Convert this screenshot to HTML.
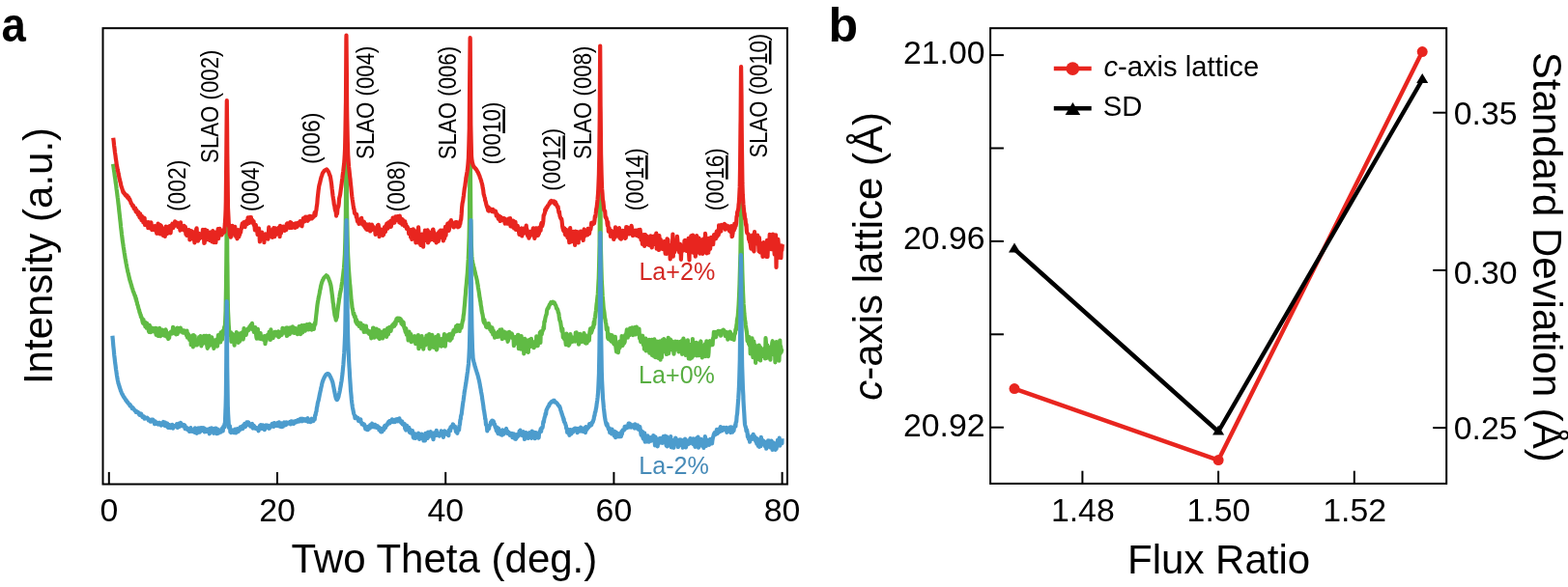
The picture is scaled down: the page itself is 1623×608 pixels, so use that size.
<!DOCTYPE html>
<html lang="en">
<head>
<meta charset="utf-8">
<title>XRD and lattice figure</title>
<style>
html,body{margin:0;padding:0;background:#fff;}
body{width:1623px;height:608px;overflow:hidden;}
svg text{font-family:"Liberation Sans", Arial, Helvetica, sans-serif;}
</style>
</head>
<body>
<svg width="1623" height="608" viewBox="0 0 1623 608" style="display:block">
<rect x="0" y="0" width="1623" height="608" fill="#ffffff"/>
<g fill="none" stroke-linejoin="round" stroke-linecap="butt" stroke-width="4.2">
<path d="M117.0,169.9 L117.5,172.9 L117.9,176.0 L118.4,179.2 L118.8,182.4 L119.3,185.6 L119.7,188.9 L120.2,192.3 L120.6,195.7 L121.1,199.2 L121.5,202.7 L121.7,204.3 L122.0,206.3 L122.4,210.1 L122.9,214.1 L123.3,218.2 L123.8,222.4 L124.2,226.6 L124.7,230.8 L125.1,234.9 L125.6,238.9 L126.0,242.7 L126.5,246.5 L126.9,249.9 L127.1,251.2 L127.4,253.0 L127.8,256.1 L128.3,259.0 L128.7,261.8 L129.2,264.7 L129.6,267.4 L130.1,269.9 L130.5,272.3 L131.0,274.8 L131.4,277.1 L131.8,278.9 L131.9,279.3 L132.3,281.5 L132.8,283.3 L133.2,285.1 L133.7,287.2 L134.1,288.9 L134.6,290.9 L135.0,292.0 L135.5,293.8 L135.5,293.9 L135.9,295.0 L136.4,296.9 L136.8,298.4 L137.3,299.4 L137.7,301.3 L138.2,302.4 L138.6,303.6 L139.1,304.8 L139.5,306.3 L140.0,306.6 L140.4,308.9 L140.7,309.9 L140.9,309.3 L141.3,311.9 L141.8,313.1 L142.2,315.5 L142.7,316.3 L143.1,318.3 L143.6,320.2 L144.0,320.8 L144.5,323.7 L144.9,324.1 L145.4,326.2 L145.8,326.3 L145.9,328.3 L146.3,328.8 L146.7,329.0 L147.2,331.2 L147.6,333.3 L148.1,334.8 L148.5,331.0 L149.0,335.6 L149.4,335.6 L149.9,335.4 L150.3,334.2 L150.3,338.3 L150.8,334.1 L151.2,337.7 L151.7,339.7 L152.1,334.8 L152.6,337.6 L153.0,336.4 L153.5,339.6 L153.9,342.8 L154.4,343.9 L154.8,336.8 L155.3,339.6 L155.7,342.4 L156.2,344.1 L156.6,342.2 L157.1,339.6 L157.5,342.4 L158.0,342.0 L158.4,341.6 L158.9,340.2 L159.2,342.8 L159.3,343.3 L159.8,343.1 L160.2,342.4 L160.7,339.9 L161.1,342.3 L161.6,346.7 L162.0,343.0 L162.5,340.2 L162.9,347.4 L163.4,344.9 L163.8,347.9 L164.3,343.7 L164.7,342.6 L165.2,339.9 L165.6,346.3 L166.1,348.2 L166.5,341.6 L167.0,342.0 L167.4,345.4 L167.9,341.5 L168.1,343.3 L168.3,343.2 L168.8,345.0 L169.2,347.2 L169.7,344.8 L170.1,347.6 L170.6,344.5 L171.0,346.7 L171.5,341.3 L171.9,342.5 L172.4,348.6 L172.8,344.6 L173.3,348.6 L173.7,349.0 L174.2,351.0 L174.6,349.1 L175.1,349.9 L175.5,346.6 L175.5,345.0 L176.0,344.9 L176.4,346.0 L176.9,343.6 L177.3,344.7 L177.8,345.0 L178.2,345.6 L178.7,343.4 L179.1,338.8 L179.6,343.1 L180.0,343.7 L180.5,345.1 L180.9,343.2 L181.4,340.5 L181.8,340.6 L182.3,346.4 L182.7,343.8 L183.2,345.8 L183.6,345.9 L183.7,339.7 L184.1,342.7 L184.5,343.3 L185.0,343.3 L185.4,343.6 L185.9,343.0 L186.3,343.0 L186.8,339.6 L187.2,342.5 L187.7,341.2 L188.1,343.1 L188.6,341.9 L189.0,344.5 L189.5,344.6 L189.9,343.7 L190.3,344.3 L190.4,343.4 L190.8,342.5 L191.3,343.6 L191.7,343.0 L192.2,345.6 L192.6,345.1 L193.1,347.5 L193.5,342.6 L194.0,349.6 L194.4,345.3 L194.9,346.1 L195.3,348.7 L195.8,348.3 L196.2,351.9 L196.7,349.4 L197.1,348.2 L197.6,349.4 L197.7,357.2 L198.0,352.7 L198.5,348.5 L198.9,352.8 L199.4,347.4 L199.8,359.3 L200.3,347.2 L200.7,355.0 L201.2,355.0 L201.6,348.0 L202.1,355.1 L202.5,357.5 L203.0,355.5 L203.4,354.5 L203.9,357.5 L204.3,354.5 L204.8,354.5 L205.2,352.8 L205.7,355.2 L206.1,349.1 L206.6,355.7 L207.0,350.3 L207.5,348.1 L207.9,353.2 L208.4,358.3 L208.8,355.9 L209.3,351.3 L209.6,356.2 L209.7,351.8 L210.2,353.2 L210.6,354.8 L211.1,347.8 L211.5,355.1 L212.0,350.5 L212.4,351.9 L212.9,348.9 L213.3,347.8 L213.8,350.7 L214.2,357.4 L214.7,360.8 L215.1,354.1 L215.6,359.3 L216.0,354.4 L216.5,347.9 L216.9,355.9 L217.4,357.8 L217.8,353.6 L218.3,356.6 L218.4,357.2 L218.7,351.4 L219.2,349.3 L219.6,353.5 L220.1,352.9 L220.5,351.9 L221.0,357.7 L221.4,360.9 L221.9,352.8 L222.3,357.6 L222.8,358.0 L223.2,356.5 L223.7,357.0 L224.1,351.7 L224.6,355.7 L225.0,358.6 L225.5,353.3 L225.9,347.2 L226.4,350.8 L226.8,353.3 L227.3,350.6 L227.7,348.3 L228.2,354.5 L228.6,344.4 L228.8,350.2 L229.1,349.2 L229.5,345.1 L230.0,351.7 L230.4,348.1 L230.9,342.4 L231.3,346.1 L231.8,342.7 L232.2,338.6 L232.2,341.4 L232.7,340.0 L233.1,333.6 L233.6,321.8 L233.6,320.2 L234.0,297.0 L234.3,270.0 L234.5,249.1 L234.8,205.0 L234.9,210.3 L235.3,270.1 L235.4,274.6 L235.8,310.8 L236.0,321.6 L236.3,327.5 L236.7,336.1 L237.2,343.4 L237.4,342.7 L237.6,345.4 L238.1,343.9 L238.5,348.0 L239.0,344.3 L239.4,353.9 L239.9,349.1 L240.3,345.9 L240.8,350.7 L241.2,350.5 L241.7,352.4 L242.1,348.5 L242.1,353.3 L242.6,357.6 L243.0,346.7 L243.5,351.4 L243.9,349.7 L244.4,351.1 L244.8,344.0 L245.3,346.2 L245.7,351.3 L246.2,349.6 L246.6,354.9 L247.1,347.0 L247.5,349.2 L248.0,353.7 L248.4,345.3 L248.9,345.3 L249.3,347.2 L249.8,346.8 L250.2,349.2 L250.7,346.6 L251.0,344.0 L251.1,347.5 L251.6,351.5 L252.0,349.6 L252.5,340.2 L252.9,344.5 L253.4,342.1 L253.8,344.9 L254.3,342.5 L254.7,346.9 L255.2,344.2 L255.6,343.7 L256.1,341.2 L256.5,340.5 L257.0,340.5 L257.4,341.9 L257.9,340.3 L258.3,338.3 L258.8,340.8 L259.2,338.2 L259.2,337.9 L259.7,336.6 L260.1,336.8 L260.6,336.9 L261.0,334.8 L261.5,341.2 L261.9,340.7 L262.4,340.1 L262.8,343.8 L263.3,342.9 L263.7,343.7 L264.2,339.2 L264.6,344.2 L265.1,346.6 L265.5,349.6 L265.8,350.7 L266.0,349.3 L266.4,342.9 L266.9,340.9 L267.3,348.1 L267.8,347.1 L268.2,350.6 L268.7,348.0 L269.1,349.7 L269.6,345.0 L270.0,351.1 L270.5,348.1 L270.9,350.4 L271.4,350.9 L271.7,349.3 L271.8,350.6 L272.3,349.5 L272.7,351.8 L273.2,350.9 L273.6,348.2 L274.1,348.2 L274.5,356.1 L275.0,350.0 L275.4,353.1 L275.9,350.6 L276.3,347.4 L276.8,346.9 L277.2,348.7 L277.7,349.1 L278.1,349.8 L278.6,343.9 L279.0,345.7 L279.5,347.1 L279.9,352.0 L280.4,341.4 L280.8,348.0 L281.3,345.1 L281.7,347.0 L282.1,344.7 L282.2,347.1 L282.6,350.2 L283.1,346.8 L283.5,346.9 L284.0,347.4 L284.4,343.9 L284.9,347.3 L285.3,345.5 L285.8,344.0 L286.2,346.1 L286.7,345.3 L287.1,347.9 L287.6,345.4 L288.0,343.4 L288.5,349.1 L288.9,347.8 L289.4,348.3 L289.8,346.3 L290.3,344.3 L290.7,343.8 L291.2,343.7 L291.6,346.9 L292.1,344.5 L292.5,339.8 L293.0,343.9 L293.4,340.6 L293.9,344.6 L294.3,340.9 L294.8,340.6 L295.2,344.2 L295.7,343.3 L296.1,339.6 L296.6,345.7 L296.9,348.0 L297.0,339.3 L297.5,347.3 L297.9,341.5 L298.4,341.9 L298.8,342.5 L299.3,339.5 L299.7,346.2 L300.2,344.2 L300.6,341.3 L301.1,342.6 L301.5,339.2 L302.0,342.0 L302.4,344.5 L302.9,338.4 L303.3,341.4 L303.8,342.1 L304.2,344.2 L304.7,344.8 L305.1,340.6 L305.6,339.9 L306.0,342.3 L306.5,341.0 L306.9,341.0 L307.4,344.4 L307.8,346.1 L308.3,342.9 L308.7,342.0 L309.2,343.4 L309.6,338.0 L310.1,342.0 L310.5,339.6 L311.0,346.1 L311.4,343.3 L311.7,341.9 L311.9,341.1 L312.3,337.0 L312.8,342.6 L313.2,344.4 L313.7,339.5 L314.1,342.2 L314.6,341.9 L315.0,336.9 L315.5,341.9 L315.9,342.6 L316.4,339.9 L316.8,339.4 L317.3,341.1 L317.7,336.1 L318.2,339.6 L318.6,341.2 L319.1,336.9 L319.5,341.5 L320.0,338.6 L320.4,335.6 L320.9,339.2 L321.3,337.5 L321.8,339.9 L322.2,336.8 L322.7,341.6 L323.1,337.5 L323.6,339.3 L324.0,337.5 L324.5,338.2 L324.9,340.8 L325.0,339.2 L325.4,337.6 L325.8,334.6 L326.3,336.0 L326.7,332.1 L327.2,327.4 L327.6,324.1 L328.1,319.2 L328.5,315.7 L329.0,312.5 L329.4,310.4 L329.5,309.8 L329.9,307.5 L330.3,305.8 L330.8,303.4 L331.2,300.8 L331.7,298.9 L332.1,296.4 L332.6,294.5 L333.0,293.0 L333.5,291.5 L333.9,290.6 L333.9,290.2 L334.4,289.9 L334.8,288.6 L335.3,288.0 L335.7,287.1 L336.2,286.9 L336.6,286.5 L337.1,286.0 L337.5,285.8 L337.8,285.3 L338.0,285.5 L338.4,285.8 L338.9,286.1 L339.3,287.1 L339.8,287.8 L340.2,288.8 L340.7,290.1 L341.1,291.0 L341.6,292.5 L342.0,293.9 L342.2,294.9 L342.5,295.9 L342.9,298.6 L343.4,302.2 L343.8,305.2 L344.3,309.3 L344.7,313.6 L345.2,315.6 L345.2,316.6 L345.6,320.3 L346.1,323.5 L346.5,326.6 L347.0,328.0 L347.4,329.3 L347.8,331.6 L347.9,329.7 L348.3,329.7 L348.8,328.5 L349.2,323.8 L349.7,320.1 L350.1,316.8 L350.6,313.4 L351.0,310.2 L351.1,309.5 L351.5,307.6 L351.9,304.3 L352.4,302.3 L352.8,300.3 L353.3,297.6 L353.7,294.9 L354.2,292.1 L354.6,288.9 L354.6,289.0 L355.1,285.4 L355.5,281.8 L356.0,277.5 L356.4,271.6 L356.8,265.1 L356.9,264.0 L357.3,250.7 L357.8,229.1 L357.9,220.0 L358.2,180.2 L358.5,150.0 L358.7,159.2 L359.1,220.0 L359.1,220.0 L359.6,243.9 L360.0,260.0 L360.2,264.9 L360.5,270.4 L360.9,278.1 L361.4,284.8 L361.8,289.9 L362.2,295.0 L362.3,295.0 L362.7,299.8 L363.2,305.6 L363.6,311.2 L364.1,313.9 L364.5,318.4 L365.0,320.5 L365.2,321.1 L365.4,322.8 L365.9,325.7 L366.3,324.4 L366.8,327.7 L367.2,328.6 L367.7,327.6 L368.1,332.6 L368.6,334.0 L369.0,331.0 L369.5,335.4 L369.9,333.4 L370.3,333.6 L370.4,336.1 L370.8,334.6 L371.3,335.5 L371.7,338.0 L372.2,338.1 L372.6,337.9 L373.1,334.6 L373.5,334.7 L374.0,340.4 L374.4,336.5 L374.9,339.3 L375.3,337.0 L375.8,338.7 L376.2,337.1 L376.7,343.9 L377.1,338.1 L377.6,340.1 L378.0,339.9 L378.5,343.7 L378.9,337.7 L379.2,341.8 L379.4,341.8 L379.8,343.6 L380.3,343.4 L380.7,342.2 L381.2,344.8 L381.6,343.5 L382.1,345.8 L382.5,345.2 L383.0,343.3 L383.4,344.7 L383.9,346.3 L384.3,350.3 L384.8,343.7 L385.2,345.1 L385.7,348.2 L386.1,339.7 L386.6,339.7 L386.6,341.1 L387.0,344.1 L387.5,349.7 L387.9,346.0 L388.4,348.3 L388.8,344.9 L389.3,340.8 L389.7,340.7 L390.2,348.7 L390.6,346.9 L391.1,343.0 L391.5,349.7 L392.0,341.9 L392.4,350.0 L392.9,350.9 L393.3,344.1 L393.8,343.5 L394.2,349.5 L394.7,344.0 L395.1,349.7 L395.6,343.9 L396.0,350.4 L396.5,348.3 L396.9,347.1 L397.0,345.8 L397.4,348.3 L397.8,342.1 L398.3,346.3 L398.7,345.8 L399.2,348.3 L399.6,341.9 L400.1,348.9 L400.5,342.6 L401.0,340.1 L401.4,346.2 L401.9,346.3 L402.3,341.7 L402.8,339.2 L403.2,340.4 L403.7,338.9 L404.1,339.4 L404.6,342.8 L405.0,339.6 L405.5,338.4 L405.9,338.2 L405.9,337.2 L406.4,338.8 L406.8,338.4 L407.3,335.4 L407.7,335.4 L408.2,337.6 L408.6,334.8 L409.1,333.3 L409.5,335.9 L410.0,332.6 L410.4,330.3 L410.9,332.5 L411.3,329.7 L411.8,330.1 L412.2,331.1 L412.7,330.6 L413.1,329.7 L413.3,330.0 L413.6,329.9 L414.0,332.5 L414.5,330.2 L414.9,330.9 L415.4,335.0 L415.8,332.1 L416.3,335.9 L416.7,336.4 L417.2,334.9 L417.6,333.7 L418.1,338.1 L418.5,339.6 L419.0,341.1 L419.2,339.7 L419.4,342.8 L419.9,344.2 L420.3,340.3 L420.8,346.7 L421.2,345.0 L421.7,344.0 L422.1,345.5 L422.6,352.5 L423.0,351.6 L423.5,343.6 L423.9,349.7 L424.4,349.8 L424.8,350.2 L425.1,349.6 L425.3,346.1 L425.7,354.2 L426.2,348.0 L426.6,350.0 L427.1,348.8 L427.5,348.9 L428.0,353.3 L428.4,352.3 L428.9,348.6 L429.3,348.1 L429.8,350.3 L430.2,356.1 L430.7,353.5 L431.1,355.2 L431.6,352.7 L432.0,353.7 L432.5,355.6 L432.9,347.2 L433.4,361.1 L433.8,350.3 L434.3,351.8 L434.7,359.0 L435.2,353.6 L435.6,353.7 L436.1,351.4 L436.5,348.0 L437.0,355.4 L437.4,359.5 L437.9,352.1 L438.3,361.6 L438.4,351.2 L438.8,352.6 L439.2,357.2 L439.7,355.5 L440.1,357.8 L440.6,352.3 L441.0,351.3 L441.5,347.5 L441.9,350.1 L442.4,350.5 L442.8,349.6 L443.3,356.7 L443.7,351.6 L444.2,346.0 L444.6,361.3 L445.1,349.8 L445.5,347.9 L446.0,357.6 L446.4,357.4 L446.9,348.1 L447.3,347.0 L447.8,349.6 L448.2,359.7 L448.7,353.4 L449.1,351.4 L449.6,355.1 L450.0,360.1 L450.5,349.7 L450.9,353.2 L451.4,348.8 L451.8,362.3 L452.3,361.5 L452.7,357.9 L453.2,353.7 L453.2,356.6 L453.6,347.1 L454.1,356.5 L454.5,350.5 L455.0,351.0 L455.4,353.6 L455.9,354.5 L456.3,358.3 L456.8,358.6 L457.2,356.9 L457.7,350.8 L458.1,357.4 L458.6,353.3 L459.0,357.9 L459.5,350.1 L459.9,346.1 L460.4,350.9 L460.8,358.7 L461.3,352.4 L461.7,349.7 L462.2,352.5 L462.6,351.3 L463.1,350.8 L463.5,347.2 L464.0,349.8 L464.4,350.0 L464.9,347.4 L465.1,346.1 L465.3,350.4 L465.8,352.7 L466.2,350.9 L466.7,349.5 L467.1,348.1 L467.6,350.6 L468.0,345.1 L468.5,346.0 L468.9,347.0 L469.4,342.2 L469.8,341.9 L470.3,342.7 L470.7,343.8 L471.0,341.0 L471.2,341.0 L471.6,340.6 L472.1,338.0 L472.5,343.1 L473.0,340.0 L473.4,336.9 L473.9,340.7 L474.3,337.1 L474.8,338.4 L475.2,340.6 L475.5,338.7 L475.7,343.0 L476.1,337.2 L476.6,340.2 L477.0,339.6 L477.5,339.7 L477.9,337.4 L478.4,334.6 L478.8,332.8 L479.3,330.4 L479.3,331.7 L479.7,327.0 L480.2,324.4 L480.6,319.2 L481.1,314.3 L481.5,308.5 L482.0,303.8 L482.2,299.9 L482.4,298.0 L482.9,293.2 L483.3,288.4 L483.8,283.1 L484.2,276.8 L484.6,270.1 L484.7,268.9 L485.1,259.4 L485.6,245.4 L485.9,230.0 L486.0,221.8 L486.5,158.1 L486.6,150.0 L486.9,177.6 L487.3,230.0 L487.4,232.6 L487.8,252.3 L488.3,264.0 L488.4,265.9 L488.7,268.6 L489.2,271.5 L489.6,273.8 L490.1,275.6 L490.5,276.8 L491.0,279.0 L491.0,279.2 L491.4,280.9 L491.9,282.7 L492.3,284.8 L492.8,286.3 L493.2,288.1 L493.7,290.3 L494.0,291.7 L494.1,292.7 L494.6,295.1 L495.0,298.1 L495.5,301.0 L495.9,303.4 L496.4,307.5 L496.8,309.3 L497.0,311.7 L497.3,311.8 L497.7,315.9 L498.2,318.1 L498.6,321.8 L499.1,324.2 L499.5,325.5 L500.0,328.7 L500.4,332.2 L500.9,334.0 L501.0,331.0 L501.3,331.0 L501.8,333.7 L502.2,335.8 L502.7,335.4 L502.8,335.1 L503.1,338.4 L503.6,339.0 L504.0,338.8 L504.5,335.7 L504.9,338.1 L505.4,337.5 L505.8,335.1 L506.3,339.7 L506.6,338.2 L506.7,337.3 L507.2,341.2 L507.6,340.9 L508.1,341.9 L508.5,343.3 L509.0,342.8 L509.4,339.3 L509.9,342.0 L510.3,346.5 L510.8,342.5 L511.2,344.9 L511.7,346.6 L512.1,349.6 L512.5,349.0 L512.6,348.3 L513.0,345.3 L513.5,348.4 L513.9,346.7 L514.4,344.8 L514.8,349.0 L515.3,346.6 L515.7,343.5 L516.2,348.7 L516.6,345.1 L517.1,347.3 L517.5,341.7 L518.0,346.2 L518.4,343.7 L518.9,344.0 L519.3,341.3 L519.8,351.1 L519.9,346.1 L520.2,347.1 L520.7,349.2 L521.1,345.9 L521.6,348.0 L522.0,343.7 L522.5,348.7 L522.9,347.4 L523.4,350.5 L523.8,350.0 L524.3,345.6 L524.7,344.8 L525.2,348.0 L525.6,353.8 L526.1,352.0 L526.5,351.1 L527.0,343.8 L527.3,344.0 L527.4,347.4 L527.9,347.7 L528.3,347.0 L528.8,349.1 L529.2,347.8 L529.7,345.5 L530.1,346.2 L530.6,350.1 L531.0,349.6 L531.5,350.3 L531.9,358.1 L532.4,350.4 L532.8,353.0 L533.3,349.2 L533.7,351.4 L534.2,355.7 L534.6,355.3 L534.7,352.9 L535.1,354.6 L535.5,354.0 L536.0,346.9 L536.4,346.9 L536.9,361.1 L537.3,357.4 L537.8,354.1 L538.2,348.0 L538.7,350.3 L539.1,361.7 L539.6,348.0 L540.0,354.2 L540.5,359.7 L540.9,356.9 L541.4,360.4 L541.8,356.8 L542.3,366.3 L542.7,352.9 L543.2,350.8 L543.6,358.6 L544.1,364.2 L544.5,357.2 L545.0,363.2 L545.0,355.6 L545.4,352.7 L545.9,363.3 L546.3,364.4 L546.8,364.8 L547.2,355.5 L547.7,352.2 L548.1,352.0 L548.6,355.6 L549.0,358.7 L549.5,358.8 L549.9,350.8 L550.4,357.6 L550.8,356.5 L551.3,357.4 L551.7,356.4 L552.2,356.1 L552.6,360.2 L553.1,358.1 L553.5,358.3 L554.0,353.7 L554.4,358.4 L554.9,355.7 L555.3,348.3 L555.8,358.2 L556.2,354.4 L556.7,358.1 L556.9,353.7 L557.1,353.3 L557.6,354.5 L558.0,352.5 L558.5,350.3 L558.9,344.4 L559.4,355.0 L559.8,343.4 L560.3,345.0 L560.7,346.3 L561.2,343.7 L561.6,342.7 L562.1,341.6 L562.5,340.8 L562.5,338.8 L563.0,340.1 L563.4,333.1 L563.9,333.1 L564.3,330.1 L564.8,327.9 L565.2,326.5 L565.7,325.5 L566.1,321.6 L566.6,319.9 L567.0,319.6 L567.5,318.4 L567.6,319.2 L567.9,318.0 L568.4,316.7 L568.8,315.6 L569.3,315.3 L569.7,314.4 L570.2,313.3 L570.6,313.7 L571.1,313.2 L571.5,313.0 L572.0,312.7 L572.0,313.9 L572.4,313.4 L572.9,313.8 L573.3,313.2 L573.8,313.4 L574.2,314.6 L574.7,315.7 L575.1,316.1 L575.6,317.3 L576.0,319.3 L576.5,319.9 L576.9,319.9 L577.1,320.9 L577.4,321.4 L577.8,323.7 L578.3,324.3 L578.7,327.6 L579.2,330.9 L579.6,332.4 L580.1,333.2 L580.5,336.1 L581.0,339.4 L581.4,342.0 L581.5,342.9 L581.9,342.0 L582.3,340.5 L582.8,349.5 L583.2,348.5 L583.7,350.2 L584.1,351.1 L584.6,348.4 L585.0,351.4 L585.5,354.4 L585.8,357.0 L585.9,353.4 L586.4,345.7 L586.8,351.8 L587.3,354.5 L587.7,357.2 L588.2,353.7 L588.6,357.9 L589.1,356.0 L589.5,356.5 L590.0,354.8 L590.4,346.2 L590.9,354.2 L591.3,353.4 L591.8,349.0 L592.2,353.8 L592.7,353.8 L593.1,349.7 L593.6,351.1 L594.0,350.2 L594.5,352.3 L594.9,350.5 L595.4,353.6 L595.8,344.5 L596.3,350.1 L596.7,344.3 L597.0,349.6 L597.2,352.8 L597.6,351.3 L598.1,350.6 L598.5,350.8 L599.0,356.6 L599.4,347.2 L599.9,354.9 L600.3,345.9 L600.8,350.2 L601.2,352.1 L601.7,348.6 L602.1,352.1 L602.6,353.9 L603.0,347.4 L603.5,351.2 L603.9,350.3 L604.4,345.0 L604.8,350.7 L605.3,348.9 L605.7,355.0 L606.2,347.4 L606.6,355.7 L607.1,348.7 L607.5,355.5 L608.0,350.8 L608.4,350.7 L608.9,350.6 L609.1,350.4 L609.3,351.8 L609.8,352.7 L610.2,346.0 L610.7,342.4 L611.1,340.4 L611.6,343.1 L612.0,344.7 L612.5,343.2 L612.9,341.8 L613.4,339.9 L613.8,338.1 L614.3,337.9 L614.3,339.2 L614.7,333.5 L615.2,336.1 L615.6,329.8 L616.1,328.3 L616.5,324.5 L617.0,321.2 L617.4,316.8 L617.7,314.0 L617.9,313.2 L618.3,308.6 L618.8,304.7 L619.2,297.3 L619.6,289.9 L619.7,288.8 L620.1,274.7 L620.6,252.8 L620.6,250.0 L621.0,202.9 L621.2,190.0 L621.5,209.0 L621.8,250.0 L621.9,255.7 L622.4,276.6 L622.8,290.1 L622.8,290.1 L623.3,298.7 L623.7,306.7 L624.2,312.1 L624.6,317.6 L625.0,321.6 L625.1,321.0 L625.5,323.8 L626.0,329.3 L626.4,330.3 L626.9,333.6 L627.3,335.4 L627.8,341.4 L628.2,341.3 L628.7,339.3 L629.0,346.9 L629.1,349.8 L629.6,351.0 L630.0,345.8 L630.5,348.1 L630.9,350.8 L631.4,352.1 L631.8,350.5 L632.3,347.1 L632.7,353.6 L633.2,353.7 L633.6,347.4 L634.1,351.1 L634.5,354.0 L635.0,352.7 L635.0,355.2 L635.4,356.4 L635.9,355.7 L636.3,352.9 L636.8,348.9 L637.2,357.6 L637.7,361.8 L638.1,364.3 L638.6,357.1 L639.0,357.9 L639.5,364.4 L639.9,365.1 L640.4,360.3 L640.8,361.1 L641.3,353.5 L641.7,359.8 L642.2,353.3 L642.6,356.3 L643.1,356.3 L643.5,354.5 L643.6,348.1 L644.0,353.3 L644.4,357.9 L644.9,356.7 L645.3,353.5 L645.8,355.7 L646.2,355.2 L646.7,354.0 L647.1,347.1 L647.6,348.7 L648.0,346.3 L648.5,344.3 L648.9,341.3 L649.0,345.5 L649.4,342.7 L649.8,349.6 L650.3,344.0 L650.7,342.8 L651.2,341.8 L651.6,347.1 L652.1,340.0 L652.3,341.9 L652.5,340.4 L653.0,342.2 L653.4,342.4 L653.9,344.9 L654.3,339.4 L654.8,343.0 L655.2,347.1 L655.7,342.5 L656.1,343.7 L656.6,341.6 L657.0,339.0 L657.5,343.0 L657.9,346.5 L658.4,342.0 L658.8,338.5 L659.2,343.9 L659.3,342.9 L659.7,345.0 L660.2,345.5 L660.6,343.5 L661.1,346.1 L661.5,340.5 L662.0,350.4 L662.4,348.6 L662.9,352.3 L663.3,354.1 L663.8,350.8 L664.2,352.4 L664.7,350.2 L665.1,347.7 L665.6,355.4 L666.0,357.4 L666.5,352.6 L666.9,361.7 L667.4,358.6 L667.8,360.6 L667.8,354.9 L668.3,350.7 L668.7,363.4 L669.2,363.2 L669.6,360.0 L670.1,359.5 L670.5,360.3 L671.0,361.1 L671.4,358.7 L671.9,351.9 L672.3,365.7 L672.8,353.4 L673.2,359.5 L673.7,359.9 L674.1,362.8 L674.6,351.8 L675.0,368.0 L675.5,365.6 L675.9,365.4 L676.4,368.7 L676.8,357.1 L677.3,351.4 L677.7,364.3 L678.2,369.9 L678.2,370.1 L678.6,360.3 L679.1,362.4 L679.5,365.7 L680.0,353.6 L680.4,360.0 L680.9,359.8 L681.3,371.0 L681.8,359.0 L682.2,370.7 L682.7,362.1 L683.1,353.3 L683.6,372.7 L684.0,356.3 L684.5,364.2 L684.9,370.1 L685.4,357.5 L685.8,352.1 L686.3,364.3 L686.7,358.6 L687.2,351.2 L687.6,351.7 L688.1,355.3 L688.5,363.2 L689.0,356.8 L689.4,361.9 L689.9,367.0 L690.3,365.2 L690.8,366.5 L691.2,365.9 L691.7,349.8 L692.1,366.1 L692.6,361.3 L693.0,358.8 L693.5,354.0 L693.9,351.5 L694.4,353.9 L694.8,359.7 L695.3,353.4 L695.5,355.9 L695.7,356.0 L696.2,362.7 L696.6,357.7 L697.1,358.7 L697.5,366.7 L698.0,358.1 L698.4,363.0 L698.9,353.7 L699.3,361.0 L699.8,360.3 L700.2,361.0 L700.7,357.4 L701.1,353.9 L701.6,357.6 L702.0,356.6 L702.5,364.4 L702.9,364.2 L703.4,354.0 L703.8,364.2 L704.3,358.9 L704.7,363.8 L705.2,358.6 L705.6,353.1 L706.1,366.8 L706.5,363.9 L707.0,354.5 L707.4,350.5 L707.9,357.5 L708.3,352.8 L708.8,357.3 L709.2,362.6 L709.7,367.8 L710.1,358.2 L710.6,367.6 L711.0,366.3 L711.5,358.3 L711.9,352.3 L712.4,366.3 L712.7,364.6 L712.8,371.4 L713.3,369.0 L713.7,365.6 L714.2,371.7 L714.6,357.0 L715.1,363.0 L715.5,359.8 L716.0,370.7 L716.4,364.7 L716.9,351.1 L717.3,369.0 L717.8,356.5 L718.2,365.0 L718.7,358.2 L719.1,362.1 L719.6,364.7 L720.0,361.4 L720.5,354.9 L720.9,368.3 L721.4,362.5 L721.8,359.4 L722.3,362.4 L722.7,355.5 L723.2,368.1 L723.6,359.6 L724.1,361.0 L724.5,362.4 L725.0,355.2 L725.4,353.5 L725.9,362.5 L726.3,364.0 L726.8,370.4 L727.2,366.8 L727.7,358.3 L728.1,367.8 L728.6,367.7 L729.0,368.4 L729.5,365.3 L729.9,356.4 L730.0,369.1 L730.4,358.0 L730.8,364.4 L731.3,353.3 L731.7,364.7 L732.2,357.4 L732.6,366.6 L733.1,369.1 L733.5,365.3 L734.0,353.5 L734.4,354.1 L734.9,353.3 L735.3,357.6 L735.8,355.4 L736.2,353.8 L736.7,353.6 L736.9,353.8 L737.1,353.9 L737.6,357.2 L738.0,350.3 L738.5,350.5 L738.9,343.9 L739.4,345.2 L739.8,346.3 L740.3,344.0 L740.7,347.6 L741.2,349.0 L741.6,344.8 L742.1,344.3 L742.5,343.6 L743.0,345.0 L743.4,342.8 L743.8,344.9 L743.9,344.8 L744.3,344.7 L744.8,345.9 L745.2,343.1 L745.7,343.4 L746.1,347.7 L746.6,343.0 L747.0,345.1 L747.5,343.6 L747.9,342.1 L748.4,342.5 L748.8,341.7 L749.3,344.0 L749.7,342.8 L750.2,343.3 L750.6,347.8 L751.1,344.4 L751.5,348.2 L752.0,346.1 L752.4,347.8 L752.5,344.0 L752.9,346.6 L753.3,351.6 L753.8,349.1 L754.2,349.6 L754.7,348.0 L755.1,349.7 L755.6,343.5 L756.0,344.7 L756.5,348.9 L756.9,350.9 L757.4,347.4 L757.8,348.7 L758.3,348.7 L758.7,349.6 L759.2,347.2 L759.4,347.2 L759.6,352.0 L760.1,345.8 L760.5,346.3 L761.0,345.0 L761.4,341.1 L761.9,341.6 L762.3,337.1 L762.8,334.4 L762.8,332.6 L763.2,330.0 L763.7,327.6 L764.1,322.4 L764.6,315.5 L764.6,315.3 L765.0,307.0 L765.5,294.6 L765.9,280.2 L765.9,280.0 L766.4,262.7 L766.6,250.0 L766.8,231.8 L767.1,210.0 L767.3,216.9 L767.6,250.0 L767.7,255.4 L768.2,274.7 L768.3,280.0 L768.6,289.7 L769.1,303.3 L769.5,312.1 L769.6,314.9 L770.0,318.7 L770.4,324.8 L770.9,330.1 L771.3,332.5 L771.5,333.7 L771.8,337.0 L772.2,339.4 L772.7,342.4 L773.1,345.2 L773.6,353.1 L774.0,352.6 L774.5,353.9 L774.9,348.9 L774.9,356.1 L775.4,349.2 L775.8,357.7 L776.3,351.3 L776.7,366.5 L777.2,350.4 L777.6,365.7 L778.1,364.1 L778.5,350.4 L779.0,359.9 L779.4,370.2 L779.9,369.0 L780.3,353.6 L780.8,360.9 L781.2,357.0 L781.7,359.2 L781.8,361.2 L782.1,375.8 L782.6,364.9 L783.0,363.0 L783.5,362.3 L783.9,368.0 L784.4,367.5 L784.8,358.2 L785.3,372.1 L785.7,357.6 L786.2,361.8 L786.6,366.7 L787.1,373.4 L787.5,360.0 L788.0,363.0 L788.4,369.2 L788.9,365.6 L789.3,367.1 L789.8,366.4 L790.2,361.9 L790.7,364.2 L791.1,365.4 L791.6,360.6 L792.0,371.4 L792.5,350.2 L792.9,354.7 L793.4,370.8 L793.8,364.5 L794.3,357.5 L794.7,364.5 L795.2,370.4 L795.6,360.6 L795.7,368.9 L796.1,364.5 L796.5,366.5 L797.0,365.8 L797.4,372.6 L797.9,359.4 L798.3,361.7 L798.8,367.5 L799.2,355.5 L799.7,353.2 L800.1,365.8 L800.6,361.8 L801.0,360.9 L801.5,362.8 L801.9,355.6 L802.4,375.3 L802.8,356.9 L803.3,361.0 L803.7,354.1 L804.2,360.5 L804.6,372.4 L805.1,362.5 L805.5,365.7 L806.0,359.9 L806.4,373.7 L806.9,363.4 L807.3,352.6 L807.8,366.0 L808.2,358.9 L808.7,364.7 L809.1,362.5 L809.5,363.5" stroke="#60bb44"/>
<path d="M116.4,347.8 L116.9,353.1 L117.3,358.1 L117.8,362.9 L118.2,367.4 L118.7,371.5 L119.0,374.5 L119.1,375.4 L119.6,378.8 L120.0,382.2 L120.5,385.5 L120.9,388.5 L121.4,391.3 L121.8,393.6 L122.3,395.9 L122.5,397.0 L122.7,397.4 L123.2,399.2 L123.6,400.5 L124.1,402.0 L124.5,403.2 L125.0,404.8 L125.4,405.6 L125.9,407.0 L126.3,408.0 L126.8,408.8 L126.8,408.4 L127.2,409.6 L127.7,410.5 L128.1,411.3 L128.6,411.5 L129.0,412.5 L129.5,413.0 L129.9,413.7 L130.4,414.9 L130.8,414.7 L131.3,415.7 L131.7,416.6 L132.2,416.6 L132.6,417.3 L133.1,418.1 L133.5,418.6 L134.0,418.5 L134.4,419.7 L134.5,420.4 L134.9,419.4 L135.3,421.0 L135.8,421.1 L136.2,421.2 L136.7,423.0 L137.1,422.9 L137.6,422.3 L138.0,423.4 L138.5,424.0 L138.9,424.0 L139.4,425.1 L139.8,425.1 L140.3,425.9 L140.7,426.8 L141.2,425.8 L141.6,426.7 L142.1,426.7 L142.5,427.4 L143.0,426.9 L143.2,427.5 L143.4,428.0 L143.9,429.0 L144.3,429.7 L144.8,428.2 L145.2,428.9 L145.7,430.2 L146.1,428.6 L146.6,429.9 L147.0,430.6 L147.5,432.0 L147.9,431.8 L148.4,431.2 L148.8,431.3 L149.3,431.8 L149.7,433.7 L150.2,432.4 L150.6,432.7 L151.1,433.4 L151.5,433.0 L152.0,433.1 L152.4,432.7 L152.9,433.8 L153.3,433.7 L153.8,435.4 L154.2,435.0 L154.7,434.7 L155.1,435.7 L155.3,435.0 L155.6,436.5 L156.0,435.6 L156.5,436.6 L156.9,434.6 L157.4,436.4 L157.8,434.7 L158.3,434.6 L158.7,436.2 L159.2,435.7 L159.6,437.1 L160.1,439.2 L160.5,436.3 L161.0,436.8 L161.4,438.1 L161.9,438.3 L162.3,437.8 L162.8,438.1 L163.2,439.4 L163.7,439.6 L164.1,437.8 L164.6,439.0 L165.0,439.3 L165.5,437.9 L165.9,439.6 L166.4,438.4 L166.8,440.6 L167.3,439.7 L167.7,439.5 L168.2,438.6 L168.6,439.3 L169.1,437.0 L169.1,438.1 L169.5,440.1 L170.0,437.3 L170.4,440.8 L170.9,437.5 L171.3,441.0 L171.8,439.1 L172.2,441.3 L172.7,440.7 L173.1,438.5 L173.6,442.5 L174.0,442.8 L174.5,441.2 L174.9,441.0 L175.4,441.3 L175.8,440.2 L176.3,443.2 L176.7,440.8 L177.2,441.6 L177.6,440.8 L178.1,441.0 L178.5,440.0 L179.0,443.7 L179.0,441.8 L179.4,443.2 L179.9,441.9 L180.3,440.9 L180.8,441.5 L181.2,441.0 L181.7,441.6 L182.1,440.9 L182.6,440.7 L183.0,439.2 L183.5,439.8 L183.9,442.9 L184.4,439.7 L184.8,439.0 L185.3,440.5 L185.7,441.9 L186.2,438.3 L186.4,439.7 L186.6,439.3 L187.1,438.0 L187.5,441.1 L188.0,440.3 L188.4,440.4 L188.9,439.6 L189.3,441.3 L189.8,440.1 L190.2,441.1 L190.7,440.1 L191.1,440.4 L191.6,444.1 L192.0,441.9 L192.5,443.5 L192.9,443.3 L193.4,443.2 L193.8,443.3 L194.3,445.2 L194.7,444.0 L195.2,444.3 L195.6,444.9 L196.1,446.9 L196.5,446.2 L196.7,445.8 L197.0,444.4 L197.4,443.1 L197.9,446.8 L198.3,446.8 L198.8,445.2 L199.2,446.3 L199.7,446.6 L200.1,447.0 L200.6,447.2 L201.0,444.8 L201.5,447.9 L201.9,443.3 L202.4,447.0 L202.8,446.4 L203.3,447.2 L203.7,448.8 L204.2,448.0 L204.6,443.9 L205.1,443.5 L205.5,447.6 L206.0,444.8 L206.4,446.2 L206.9,447.5 L207.3,443.3 L207.8,443.1 L208.2,446.2 L208.7,445.9 L209.1,445.2 L209.6,445.8 L210.0,444.0 L210.0,443.1 L210.5,445.5 L210.9,444.4 L211.4,443.5 L211.8,447.3 L212.3,446.4 L212.7,447.1 L213.2,444.9 L213.6,445.6 L214.1,444.8 L214.5,445.2 L215.0,446.8 L215.4,445.0 L215.9,446.9 L216.3,446.8 L216.8,449.3 L217.2,443.8 L217.7,447.6 L218.1,445.9 L218.6,445.9 L219.0,443.4 L219.5,445.3 L219.9,447.6 L220.4,446.2 L220.8,446.6 L220.9,446.4 L221.3,448.8 L221.7,446.9 L222.2,443.9 L222.6,446.0 L223.1,443.9 L223.5,443.7 L224.0,446.2 L224.4,449.2 L224.9,446.8 L225.3,444.6 L225.8,445.3 L226.2,448.6 L226.7,446.9 L227.1,446.6 L227.6,446.6 L228.0,446.3 L228.5,447.6 L228.9,446.9 L229.4,446.5 L229.5,444.2 L229.8,446.6 L230.3,444.3 L230.7,446.5 L231.2,441.8 L231.6,442.8 L232.1,442.0 L232.4,439.1 L232.5,442.4 L233.0,436.5 L233.4,425.2 L233.6,420.3 L233.9,408.0 L234.2,379.8 L234.3,367.1 L234.7,312.0 L234.8,313.5 L235.2,379.9 L235.2,380.0 L235.7,413.6 L235.8,420.5 L236.1,428.3 L236.6,436.8 L237.0,443.0 L237.0,440.4 L237.5,442.1 L237.9,441.1 L238.4,447.4 L238.8,447.8 L239.3,448.1 L239.7,447.7 L240.0,446.8 L240.2,446.8 L240.6,445.6 L241.1,445.8 L241.5,446.1 L242.0,448.1 L242.4,446.4 L242.9,445.3 L243.3,444.5 L243.8,444.6 L244.2,448.3 L244.7,446.6 L245.1,445.8 L245.6,445.1 L246.0,444.1 L246.5,445.7 L246.8,447.0 L246.9,445.0 L247.4,445.0 L247.8,444.7 L248.3,445.1 L248.7,442.3 L249.2,443.9 L249.6,442.3 L250.1,444.1 L250.5,441.5 L251.0,442.9 L251.4,444.0 L251.9,441.2 L252.0,440.3 L252.3,440.9 L252.8,440.5 L253.2,438.9 L253.7,440.5 L254.1,442.0 L254.6,439.2 L255.0,438.7 L255.5,437.5 L255.9,439.3 L256.4,437.3 L256.8,437.4 L257.2,440.1 L257.3,437.6 L257.7,440.1 L258.2,440.5 L258.6,439.2 L259.1,439.9 L259.5,441.7 L260.0,439.5 L260.4,439.3 L260.9,438.9 L261.3,441.3 L261.8,443.5 L262.2,443.2 L262.7,440.8 L263.1,441.3 L263.6,442.3 L264.0,443.7 L264.5,443.5 L264.9,444.0 L265.4,444.1 L265.8,443.2 L265.8,443.9 L266.3,444.2 L266.7,443.7 L267.2,444.5 L267.6,446.3 L268.1,444.1 L268.5,443.4 L269.0,440.8 L269.4,443.4 L269.9,440.1 L270.3,441.0 L270.8,444.0 L271.2,443.8 L271.7,442.6 L272.1,440.4 L272.6,442.2 L273.0,441.6 L273.5,443.6 L273.9,445.2 L274.4,442.6 L274.8,441.2 L275.3,440.5 L275.7,442.0 L276.2,441.9 L276.6,440.6 L277.1,442.3 L277.5,440.8 L278.0,443.7 L278.4,443.8 L278.9,443.7 L279.3,441.3 L279.8,442.2 L280.2,441.2 L280.7,440.8 L281.1,440.9 L281.4,439.3 L281.6,439.1 L282.0,441.7 L282.5,440.4 L282.9,440.8 L283.4,441.8 L283.8,438.1 L284.3,439.2 L284.7,440.2 L285.2,440.5 L285.6,439.3 L286.1,440.9 L286.5,440.1 L287.0,438.2 L287.4,438.7 L287.9,441.1 L288.3,440.5 L288.8,437.4 L289.2,441.5 L289.7,440.8 L290.1,441.7 L290.6,439.3 L291.0,439.6 L291.5,438.4 L291.9,442.2 L292.4,439.6 L292.8,441.8 L293.3,438.8 L293.7,439.8 L294.2,437.5 L294.6,438.8 L295.1,440.3 L295.5,437.5 L296.0,440.2 L296.4,439.2 L296.9,437.5 L297.3,438.3 L297.8,438.2 L298.2,438.6 L298.7,438.3 L298.7,438.1 L299.1,438.6 L299.6,437.5 L300.0,437.1 L300.5,438.4 L300.9,439.4 L301.4,436.3 L301.8,438.0 L302.3,437.1 L302.7,436.6 L303.2,438.5 L303.6,436.8 L304.1,438.9 L304.5,436.5 L305.0,437.5 L305.4,437.0 L305.9,436.1 L306.3,437.4 L306.8,436.3 L307.2,437.1 L307.7,436.4 L308.1,435.1 L308.6,436.1 L309.0,436.1 L309.5,436.6 L309.9,434.7 L310.4,435.3 L310.8,433.8 L311.3,436.2 L311.7,434.3 L312.2,433.6 L312.6,435.1 L313.1,436.2 L313.5,433.8 L314.0,434.3 L314.4,434.7 L314.9,434.3 L315.3,435.5 L315.8,434.4 L315.9,434.6 L316.2,435.9 L316.7,434.5 L317.1,435.5 L317.6,434.0 L318.0,433.9 L318.5,433.2 L318.9,436.8 L319.4,434.7 L319.8,435.2 L320.3,434.9 L320.7,435.2 L321.2,435.3 L321.6,437.2 L322.1,434.4 L322.5,433.8 L323.0,434.6 L323.4,434.1 L323.9,436.2 L324.3,436.2 L324.6,434.4 L324.8,433.7 L325.2,434.1 L325.7,434.5 L326.1,430.1 L326.6,430.2 L327.0,427.0 L327.5,426.2 L327.9,422.5 L328.4,420.6 L328.8,417.7 L329.3,415.8 L329.7,414.7 L329.7,414.5 L330.2,412.1 L330.6,410.0 L331.1,407.4 L331.5,405.7 L332.0,403.5 L332.4,401.4 L332.9,399.4 L333.3,397.3 L333.8,395.7 L334.2,394.2 L334.7,393.2 L334.9,392.7 L335.1,392.1 L335.6,391.1 L336.0,390.4 L336.5,389.5 L336.9,388.8 L337.4,388.3 L337.8,387.6 L338.3,387.4 L338.7,387.1 L339.2,387.0 L339.2,387.0 L339.6,387.0 L340.1,387.3 L340.5,387.8 L341.0,388.4 L341.4,389.3 L341.9,390.1 L342.3,390.9 L342.8,392.1 L343.2,392.9 L343.6,393.9 L343.7,394.1 L344.1,395.2 L344.6,397.3 L345.0,399.3 L345.5,401.6 L345.9,404.0 L346.4,406.3 L346.8,408.4 L347.3,410.7 L347.7,412.2 L348.2,413.6 L348.6,413.5 L348.7,414.1 L349.1,413.9 L349.5,413.2 L350.0,412.1 L350.4,411.0 L350.9,408.4 L351.3,407.0 L351.8,404.6 L352.2,402.1 L352.7,399.7 L353.1,396.9 L353.1,396.9 L353.6,394.3 L354.0,390.9 L354.5,387.1 L354.9,382.6 L355.4,377.7 L355.8,372.1 L355.8,372.0 L356.3,365.4 L356.7,356.9 L357.2,345.0 L357.3,340.0 L357.6,323.1 L358.0,290.0 L358.1,285.2 L358.5,231.4 L358.6,228.0 L359.0,259.5 L359.2,290.0 L359.4,307.0 L359.9,337.9 L359.9,340.0 L360.3,353.8 L360.8,365.5 L361.2,374.5 L361.5,380.0 L361.7,382.7 L362.1,390.4 L362.6,397.5 L363.0,404.1 L363.5,409.2 L363.9,414.0 L364.3,417.6 L364.4,418.0 L364.8,421.3 L365.3,423.8 L365.7,425.9 L366.2,428.5 L366.6,429.4 L367.1,430.3 L367.5,433.1 L367.6,432.6 L368.0,433.1 L368.4,431.6 L368.9,433.2 L369.3,433.3 L369.8,433.4 L370.2,432.6 L370.7,434.4 L371.1,435.9 L371.6,435.6 L372.0,434.8 L372.5,435.7 L372.9,436.8 L373.3,434.4 L373.4,436.3 L373.8,437.3 L374.3,437.8 L374.7,439.4 L375.2,439.4 L375.6,439.0 L376.1,439.5 L376.5,440.7 L377.0,439.5 L377.4,440.4 L377.9,442.4 L378.3,444.4 L378.8,442.0 L379.2,442.6 L379.7,443.1 L380.1,445.1 L380.6,443.2 L380.7,445.2 L381.0,441.8 L381.5,442.6 L381.9,442.4 L382.4,443.7 L382.8,443.7 L383.3,440.0 L383.7,440.1 L384.2,441.6 L384.6,439.9 L385.1,438.7 L385.5,442.1 L386.0,441.3 L386.4,441.1 L386.7,439.8 L386.9,441.8 L387.3,440.6 L387.8,442.3 L388.2,439.9 L388.7,440.3 L389.1,441.8 L389.6,440.8 L390.0,443.0 L390.5,442.7 L390.9,441.3 L391.4,443.1 L391.8,442.9 L392.3,445.2 L392.7,442.9 L393.2,443.3 L393.6,446.1 L394.1,447.3 L394.5,447.4 L395.0,444.9 L395.4,445.3 L395.5,447.2 L395.9,444.6 L396.3,443.6 L396.8,445.2 L397.2,445.2 L397.7,443.0 L398.1,441.3 L398.6,440.8 L399.0,443.1 L399.5,440.6 L399.9,440.9 L400.4,440.4 L400.8,440.2 L401.3,438.4 L401.7,438.7 L402.2,436.8 L402.6,437.2 L403.1,436.3 L403.5,438.4 L404.0,436.8 L404.4,435.8 L404.4,436.0 L404.9,436.0 L405.3,436.9 L405.8,434.3 L406.2,434.7 L406.7,435.0 L407.1,437.1 L407.6,436.1 L408.0,435.1 L408.5,435.9 L408.9,437.0 L409.4,434.7 L409.8,434.5 L410.3,436.0 L410.7,435.3 L411.2,435.3 L411.6,434.1 L411.8,436.3 L412.1,436.2 L412.5,435.3 L413.0,435.8 L413.4,433.3 L413.9,436.2 L414.3,435.8 L414.8,437.0 L415.2,437.8 L415.7,437.3 L416.1,436.4 L416.6,439.4 L417.0,438.7 L417.5,439.8 L417.9,439.7 L418.4,440.7 L418.8,439.0 L419.2,443.8 L419.3,442.6 L419.7,444.0 L420.2,445.5 L420.6,443.2 L421.1,440.9 L421.5,442.8 L422.0,442.8 L422.4,444.5 L422.9,445.8 L423.3,442.9 L423.8,447.4 L424.2,444.6 L424.7,448.3 L425.1,448.1 L425.6,448.3 L426.0,448.8 L426.5,448.0 L426.6,447.9 L426.9,446.1 L427.4,449.3 L427.8,453.1 L428.3,453.5 L428.7,452.8 L429.2,451.7 L429.6,449.3 L430.1,453.9 L430.5,450.6 L431.0,450.6 L431.4,450.2 L431.9,451.5 L432.3,450.4 L432.8,450.7 L433.2,448.7 L433.7,450.2 L434.1,454.9 L434.6,451.3 L435.0,450.8 L435.5,452.6 L435.9,452.9 L436.4,449.5 L436.8,451.7 L437.3,454.2 L437.7,453.1 L438.2,453.1 L438.5,456.5 L438.6,452.1 L439.1,453.8 L439.5,452.4 L440.0,456.3 L440.4,448.9 L440.9,451.5 L441.3,451.4 L441.8,453.4 L442.2,452.8 L442.7,453.8 L443.1,447.5 L443.6,452.3 L444.0,449.7 L444.5,449.0 L444.9,451.6 L445.4,448.6 L445.8,447.2 L446.3,450.7 L446.7,448.5 L447.2,450.3 L447.6,452.4 L448.1,452.6 L448.5,455.2 L449.0,451.2 L449.4,448.3 L449.9,449.3 L450.3,448.5 L450.8,448.0 L451.2,450.8 L451.7,448.3 L451.8,445.8 L452.1,450.8 L452.6,449.3 L453.0,449.9 L453.5,449.4 L453.9,450.4 L454.4,449.2 L454.8,451.6 L455.3,450.3 L455.7,450.1 L456.2,450.1 L456.6,446.4 L457.1,449.2 L457.5,449.0 L458.0,450.1 L458.4,447.1 L458.9,452.9 L459.3,449.8 L459.8,447.3 L460.2,446.4 L460.7,449.1 L461.1,449.3 L461.6,448.3 L462.0,449.5 L462.5,448.1 L462.9,450.1 L463.4,447.3 L463.6,448.6 L463.8,450.2 L464.3,451.1 L464.7,445.5 L465.2,445.5 L465.6,444.5 L466.1,446.3 L466.5,442.3 L467.0,443.0 L467.4,442.8 L467.9,441.2 L468.3,440.9 L468.8,441.2 L468.8,439.4 L469.2,439.8 L469.7,441.5 L470.1,442.8 L470.6,443.0 L471.0,441.7 L471.5,443.9 L471.9,447.0 L472.4,447.5 L472.8,447.2 L473.3,446.1 L473.3,448.8 L473.7,446.9 L474.2,444.9 L474.6,443.7 L475.1,445.3 L475.5,441.0 L476.0,439.3 L476.4,435.0 L476.9,433.7 L477.0,431.5 L477.3,430.2 L477.8,428.8 L478.2,425.0 L478.7,421.0 L479.1,418.0 L479.6,415.0 L480.0,411.9 L480.5,408.2 L480.7,406.2 L480.9,405.3 L481.4,402.4 L481.8,399.7 L482.3,397.0 L482.7,393.9 L483.2,390.9 L483.6,387.3 L483.6,387.5 L484.1,384.3 L484.5,380.7 L485.0,376.4 L485.3,372.0 L485.4,370.5 L485.9,360.2 L486.3,344.4 L486.4,340.0 L486.8,315.5 L487.0,290.0 L487.2,253.5 L487.4,228.0 L487.7,263.9 L487.8,290.0 L488.1,320.0 L488.4,340.0 L488.6,346.2 L489.0,361.2 L489.5,369.5 L489.5,370.0 L489.9,372.7 L490.4,374.8 L490.8,376.2 L491.3,377.9 L491.3,378.2 L491.7,379.7 L492.2,381.1 L492.6,382.7 L493.1,384.0 L493.5,385.4 L494.0,387.0 L494.4,388.2 L494.9,390.0 L495.3,391.7 L495.5,392.7 L495.8,393.6 L496.2,395.7 L496.7,398.1 L497.1,400.7 L497.6,403.1 L498.0,405.9 L498.5,408.3 L498.9,410.6 L499.2,413.3 L499.4,414.2 L499.8,417.0 L500.3,420.2 L500.7,424.0 L501.2,426.2 L501.6,429.1 L502.1,432.3 L502.1,433.8 L502.5,433.9 L503.0,439.8 L503.4,440.2 L503.9,441.5 L504.3,446.3 L504.4,444.5 L504.8,442.2 L505.2,443.3 L505.7,444.5 L506.1,444.0 L506.6,440.7 L507.0,440.7 L507.5,440.0 L507.9,437.4 L508.4,437.6 L508.8,436.5 L509.3,435.7 L509.5,435.6 L509.7,436.0 L510.2,436.2 L510.6,436.2 L511.1,437.0 L511.5,439.7 L512.0,439.4 L512.4,441.5 L512.9,443.0 L513.3,443.2 L513.8,446.1 L514.0,442.4 L514.2,444.9 L514.7,443.9 L515.1,448.0 L515.6,449.0 L516.0,443.7 L516.5,445.7 L516.9,449.1 L517.4,449.5 L517.8,449.6 L518.3,448.9 L518.4,449.9 L518.7,450.3 L519.2,448.6 L519.6,450.7 L520.1,445.4 L520.5,449.8 L521.0,446.5 L521.4,449.7 L521.9,447.2 L522.3,446.1 L522.8,447.9 L523.2,445.5 L523.7,445.2 L524.1,443.9 L524.3,446.5 L524.6,447.6 L525.0,448.8 L525.5,446.9 L525.9,449.1 L526.4,447.7 L526.8,448.0 L527.3,449.3 L527.7,450.8 L528.2,448.8 L528.6,449.2 L529.1,449.7 L529.5,450.6 L530.0,449.0 L530.4,453.1 L530.9,450.1 L531.3,452.3 L531.7,449.4 L531.8,451.3 L532.2,451.6 L532.7,449.9 L533.1,454.6 L533.6,451.9 L534.0,454.8 L534.5,453.6 L534.9,450.0 L535.4,450.7 L535.8,452.4 L536.3,451.4 L536.7,451.3 L537.2,450.3 L537.6,446.6 L538.1,449.6 L538.5,445.7 L539.0,450.3 L539.4,448.3 L539.9,448.5 L540.3,449.8 L540.8,451.2 L541.2,447.7 L541.7,447.3 L542.1,448.6 L542.1,447.5 L542.6,449.9 L543.0,455.0 L543.5,449.3 L543.9,452.7 L544.4,448.0 L544.8,451.3 L545.3,450.0 L545.7,450.8 L546.2,451.5 L546.6,453.9 L547.1,450.5 L547.5,450.6 L548.0,448.2 L548.4,451.4 L548.9,449.9 L549.3,451.8 L549.8,450.3 L550.2,453.8 L550.7,446.7 L551.1,449.9 L551.6,452.2 L552.0,449.6 L552.5,448.7 L552.5,449.7 L552.9,447.8 L553.4,450.3 L553.8,454.2 L554.3,452.4 L554.7,448.2 L555.2,448.8 L555.6,450.2 L556.1,453.2 L556.5,449.8 L557.0,450.1 L557.4,453.6 L557.7,453.2 L557.9,450.4 L558.3,448.2 L558.8,446.8 L559.2,447.3 L559.7,444.1 L560.1,446.9 L560.6,443.2 L561.0,443.2 L561.5,443.2 L561.9,440.8 L562.4,436.6 L562.8,437.3 L562.8,437.5 L563.3,434.1 L563.7,432.3 L564.2,431.2 L564.6,428.3 L565.1,429.0 L565.5,425.0 L566.0,424.1 L566.4,423.2 L566.9,422.1 L567.3,421.4 L567.3,421.5 L567.8,420.5 L568.2,420.5 L568.7,418.3 L569.1,418.4 L569.6,417.5 L570.0,417.3 L570.5,416.8 L570.9,415.9 L571.4,415.7 L571.8,416.0 L572.3,415.5 L572.7,415.0 L573.2,416.0 L573.2,416.0 L573.6,414.8 L574.1,415.7 L574.5,416.6 L575.0,416.5 L575.4,416.7 L575.9,417.0 L576.3,417.4 L576.8,418.1 L577.2,418.6 L577.7,419.8 L578.1,419.9 L578.6,420.5 L579.0,420.8 L579.1,421.5 L579.5,421.7 L579.9,423.1 L580.4,425.1 L580.8,426.0 L581.3,427.6 L581.7,429.1 L582.2,430.4 L582.6,431.8 L583.1,433.2 L583.5,435.5 L583.6,433.8 L584.0,437.1 L584.4,437.4 L584.9,437.9 L585.3,439.6 L585.8,440.7 L586.2,443.6 L586.7,443.8 L587.1,447.9 L587.6,446.0 L588.0,445.0 L588.5,447.2 L588.8,445.2 L588.9,448.8 L589.4,450.8 L589.8,449.5 L590.3,445.1 L590.7,445.6 L591.2,449.4 L591.6,446.3 L592.1,445.5 L592.5,446.9 L593.0,447.7 L593.4,446.4 L593.9,444.5 L593.9,445.2 L594.3,445.7 L594.8,444.3 L595.2,443.7 L595.7,445.3 L596.1,443.7 L596.6,445.2 L597.0,445.3 L597.5,448.2 L597.9,443.8 L598.4,445.3 L598.8,444.9 L599.3,445.7 L599.7,446.7 L600.2,444.2 L600.6,443.8 L601.1,442.7 L601.5,444.2 L602.0,446.7 L602.4,446.0 L602.9,444.3 L603.3,445.5 L603.7,446.1 L603.8,446.9 L604.2,445.1 L604.7,445.8 L605.1,443.0 L605.6,444.1 L606.0,448.1 L606.5,442.1 L606.9,444.1 L607.4,445.0 L607.8,443.9 L608.3,442.7 L608.7,443.1 L609.2,442.7 L609.6,442.0 L610.1,439.1 L610.5,441.1 L611.0,439.7 L611.1,439.8 L611.4,440.5 L611.9,440.4 L612.3,439.9 L612.8,437.4 L613.2,437.8 L613.7,437.0 L614.1,435.4 L614.6,434.3 L615.0,431.4 L615.5,429.9 L615.5,430.4 L615.9,427.2 L616.4,426.4 L616.8,423.9 L617.3,421.5 L617.7,418.1 L618.2,415.0 L618.5,412.3 L618.6,411.5 L619.1,406.0 L619.5,397.8 L620.0,386.5 L620.0,384.9 L620.4,364.0 L620.8,330.0 L620.9,324.2 L621.3,246.3 L621.4,241.0 L621.8,288.4 L622.0,330.0 L622.2,348.0 L622.7,378.5 L622.8,385.1 L623.1,394.3 L623.6,404.2 L624.0,412.1 L624.0,412.4 L624.5,417.6 L624.9,422.4 L625.4,426.7 L625.8,430.2 L625.8,430.6 L626.3,433.7 L626.7,435.9 L627.2,438.1 L627.6,439.8 L628.1,440.7 L628.5,439.1 L628.9,441.6 L629.0,442.1 L629.4,442.1 L629.9,444.6 L630.3,443.8 L630.8,443.6 L631.2,448.0 L631.7,447.4 L632.1,446.9 L632.6,448.7 L633.0,449.3 L633.3,448.1 L633.5,444.5 L633.9,446.6 L634.4,447.3 L634.8,446.7 L635.3,449.2 L635.7,451.3 L636.2,448.3 L636.6,447.0 L637.1,453.2 L637.5,448.8 L638.0,447.8 L638.4,450.8 L638.9,451.3 L639.3,449.0 L639.8,452.1 L640.2,449.7 L640.7,449.3 L640.7,451.6 L641.1,452.3 L641.6,448.9 L642.0,450.4 L642.5,449.1 L642.9,452.1 L643.4,446.9 L643.8,449.7 L644.3,446.3 L644.7,445.3 L645.2,445.9 L645.6,445.7 L646.1,445.4 L646.5,443.5 L646.6,442.0 L647.0,441.8 L647.4,443.0 L647.9,442.8 L648.3,443.5 L648.8,442.1 L649.2,442.3 L649.7,442.8 L650.1,440.9 L650.6,438.6 L651.0,439.0 L651.5,438.6 L651.9,442.3 L652.4,439.3 L652.8,441.8 L653.3,441.2 L653.3,442.7 L653.7,441.7 L654.2,440.5 L654.6,440.3 L655.1,440.8 L655.5,441.1 L656.0,440.3 L656.4,441.0 L656.9,443.5 L657.3,439.3 L657.8,442.2 L658.2,440.9 L658.7,442.5 L659.1,443.4 L659.6,442.2 L660.0,443.6 L660.0,440.4 L660.5,444.5 L660.9,442.3 L661.4,445.0 L661.8,444.9 L662.3,442.0 L662.7,444.7 L663.2,447.4 L663.6,450.6 L664.1,449.0 L664.5,449.7 L665.0,447.0 L665.4,453.2 L665.9,454.5 L666.3,452.0 L666.8,451.7 L667.2,448.7 L667.4,454.9 L667.7,457.6 L668.1,455.2 L668.6,456.6 L669.0,455.7 L669.5,452.1 L669.9,457.3 L670.4,451.3 L670.8,454.4 L671.3,455.8 L671.7,457.6 L672.2,456.4 L672.6,457.0 L673.1,453.9 L673.5,453.1 L674.0,456.6 L674.4,454.5 L674.9,453.2 L675.3,452.9 L675.8,454.8 L676.2,451.2 L676.2,452.2 L676.7,451.4 L677.1,456.4 L677.6,456.7 L678.0,461.3 L678.5,452.6 L678.9,455.2 L679.4,459.6 L679.8,456.7 L680.3,457.0 L680.7,462.4 L681.2,456.6 L681.6,454.9 L682.1,454.4 L682.5,458.4 L683.0,458.5 L683.4,453.9 L683.9,454.8 L684.3,458.4 L684.8,458.6 L685.2,455.3 L685.7,458.8 L686.1,458.2 L686.6,452.1 L687.0,456.0 L687.5,457.8 L687.9,455.3 L688.4,451.7 L688.8,456.4 L689.3,459.3 L689.7,461.7 L690.2,452.4 L690.6,462.4 L691.0,454.1 L691.1,460.7 L691.5,460.7 L692.0,460.2 L692.4,457.9 L692.9,454.1 L693.3,458.6 L693.8,455.4 L694.2,452.2 L694.7,463.2 L695.1,459.6 L695.6,463.3 L696.0,455.8 L696.5,462.5 L696.9,463.4 L697.4,463.7 L697.8,458.9 L698.3,455.7 L698.7,458.4 L699.2,453.7 L699.6,454.0 L700.1,458.8 L700.5,455.7 L701.0,457.6 L701.4,457.6 L701.9,463.0 L702.3,461.2 L702.8,457.2 L703.2,460.8 L703.7,455.4 L704.1,457.4 L704.6,460.8 L705.0,455.7 L705.5,458.8 L705.9,456.2 L706.4,460.2 L706.8,463.7 L707.3,456.7 L707.7,459.5 L708.2,456.3 L708.6,455.3 L709.1,454.7 L709.5,462.1 L710.0,463.4 L710.4,458.9 L710.9,456.2 L711.3,460.2 L711.8,457.4 L712.2,460.1 L712.7,458.7 L713.1,458.5 L713.3,459.6 L713.6,456.2 L714.0,457.6 L714.5,454.1 L714.9,457.8 L715.4,454.5 L715.8,457.8 L716.3,456.1 L716.7,459.1 L717.2,459.9 L717.6,454.3 L718.1,455.8 L718.5,455.2 L719.0,459.9 L719.4,462.8 L719.9,461.2 L720.3,457.5 L720.8,462.4 L721.2,453.6 L721.7,462.1 L722.1,456.1 L722.6,452.7 L723.0,463.6 L723.5,462.9 L723.9,454.8 L724.4,457.9 L724.8,457.3 L725.3,458.6 L725.7,454.9 L726.2,456.8 L726.6,459.8 L727.1,459.4 L727.5,462.1 L728.0,458.7 L728.4,463.9 L728.9,456.1 L729.3,458.9 L729.8,452.1 L730.2,454.4 L730.7,462.0 L731.1,455.4 L731.6,459.7 L732.0,458.3 L732.5,455.9 L732.9,458.0 L733.4,457.5 L733.8,457.7 L734.0,460.9 L734.3,460.0 L734.7,456.0 L735.2,454.9 L735.6,457.7 L736.1,456.2 L736.5,458.1 L737.0,459.4 L737.4,456.0 L737.9,453.3 L738.3,452.2 L738.8,450.1 L739.2,449.2 L739.7,448.1 L739.9,448.8 L740.1,448.7 L740.6,450.1 L741.0,447.5 L741.5,447.1 L741.9,444.9 L742.4,449.1 L742.8,446.6 L743.3,448.3 L743.7,446.3 L744.2,447.0 L744.6,444.2 L745.1,445.2 L745.5,446.9 L745.8,442.1 L746.0,445.6 L746.4,446.4 L746.9,444.6 L747.3,445.1 L747.8,445.9 L748.2,443.1 L748.7,444.8 L749.1,442.9 L749.6,443.5 L750.0,443.7 L750.5,444.7 L750.9,445.0 L751.4,445.6 L751.8,442.9 L752.3,447.9 L752.7,446.7 L753.2,446.0 L753.6,444.2 L754.1,444.7 L754.5,445.6 L755.0,445.6 L755.4,442.5 L755.9,446.4 L756.3,448.0 L756.8,442.4 L757.2,447.1 L757.7,446.3 L757.7,445.5 L758.1,447.7 L758.6,443.6 L759.0,445.0 L759.5,446.0 L759.9,443.0 L760.4,441.7 L760.8,441.3 L761.3,439.4 L761.4,441.5 L761.7,437.5 L762.2,436.8 L762.6,431.2 L763.1,428.4 L763.5,422.7 L764.0,416.2 L764.3,412.2 L764.4,410.3 L764.9,402.2 L765.3,390.6 L765.6,379.9 L765.8,372.6 L766.2,338.7 L766.3,330.0 L766.7,283.5 L766.9,264.0 L767.1,277.2 L767.5,330.0 L767.6,334.4 L768.0,369.5 L768.2,380.0 L768.5,389.1 L768.9,401.4 L769.4,410.9 L769.4,412.8 L769.8,420.5 L770.3,428.2 L770.7,435.2 L771.0,439.4 L771.2,440.3 L771.6,441.9 L772.1,443.3 L772.5,446.5 L773.0,445.3 L773.4,447.0 L773.9,452.2 L774.0,449.7 L774.3,452.1 L774.8,454.7 L775.2,454.2 L775.7,453.5 L776.1,457.7 L776.6,454.9 L777.0,452.6 L777.5,455.3 L777.9,454.8 L778.4,451.7 L778.8,454.0 L779.3,454.0 L779.7,449.8 L779.9,454.2 L780.2,454.5 L780.6,455.0 L781.1,452.1 L781.5,455.5 L782.0,456.5 L782.4,457.4 L782.9,453.9 L783.3,459.7 L783.8,454.5 L784.2,457.5 L784.7,461.7 L785.1,456.3 L785.6,457.5 L786.0,462.8 L786.5,458.3 L786.9,458.3 L787.3,459.3 L787.4,462.1 L787.8,452.8 L788.3,456.5 L788.7,456.0 L789.2,455.9 L789.6,456.2 L790.1,456.4 L790.5,460.3 L791.0,457.3 L791.4,460.8 L791.9,462.2 L792.3,458.2 L792.8,460.1 L793.2,464.7 L793.7,460.5 L794.1,457.6 L794.6,459.7 L795.0,456.4 L795.5,460.1 L795.9,462.3 L796.4,456.7 L796.8,459.0 L797.3,463.5 L797.7,458.4 L798.2,460.4 L798.6,456.6 L799.1,458.0 L799.1,458.6 L799.5,465.9 L800.0,458.8 L800.4,458.6 L800.9,458.5 L801.3,459.8 L801.8,462.8 L802.2,461.0 L802.7,465.8 L803.1,460.9 L803.6,464.8 L804.0,461.0 L804.5,462.2 L804.9,455.8 L805.4,459.9 L805.8,459.7 L806.3,458.9 L806.7,453.6 L807.2,461.7 L807.6,457.7 L808.1,457.3 L808.5,457.5 L809.0,457.5 L809.4,459.2 L809.5,454.2" stroke="#4c9ccd"/>
<path d="M117.2,142.7 L117.7,146.6 L118.1,150.7 L118.6,154.4 L119.0,158.0 L119.0,158.0 L119.5,161.3 L119.9,164.7 L120.4,167.7 L120.7,170.2 L120.8,170.6 L121.3,173.1 L121.7,175.5 L122.2,177.7 L122.6,179.8 L123.1,182.1 L123.5,184.4 L124.0,186.1 L124.4,188.3 L124.4,187.9 L124.9,189.8 L125.3,192.1 L125.8,193.6 L126.2,194.8 L126.7,196.3 L127.1,197.7 L127.4,199.1 L127.6,198.3 L128.0,199.2 L128.5,200.6 L128.9,200.2 L129.4,201.1 L129.8,202.2 L130.3,202.6 L130.7,202.8 L131.2,203.5 L131.6,202.5 L132.1,204.8 L132.5,204.0 L133.0,204.0 L133.4,205.9 L133.9,207.0 L134.0,206.4 L134.3,206.4 L134.8,208.0 L135.2,208.7 L135.7,210.6 L136.1,210.9 L136.6,211.5 L137.0,213.0 L137.5,212.6 L137.9,212.9 L138.4,215.2 L138.8,216.1 L139.3,216.1 L139.7,216.1 L140.0,217.7 L140.2,215.5 L140.6,219.2 L141.1,219.6 L141.5,217.7 L142.0,220.5 L142.4,219.6 L142.9,222.5 L143.3,219.6 L143.8,221.5 L144.2,224.3 L144.7,225.4 L145.1,221.3 L145.6,223.7 L145.9,225.2 L146.0,223.6 L146.5,227.9 L146.9,223.8 L147.4,226.8 L147.8,224.9 L148.3,230.3 L148.7,228.0 L149.2,227.7 L149.6,225.7 L150.1,233.0 L150.5,231.5 L151.0,231.9 L151.4,233.2 L151.9,232.0 L152.3,230.2 L152.8,230.4 L153.2,230.9 L153.3,236.1 L153.7,230.2 L154.1,232.3 L154.6,233.6 L155.0,235.4 L155.5,236.4 L155.9,231.6 L156.4,230.5 L156.8,234.8 L157.3,238.1 L157.7,236.8 L158.2,235.9 L158.6,234.4 L159.1,236.3 L159.5,235.5 L160.0,238.5 L160.4,234.1 L160.9,236.7 L161.3,236.5 L161.8,238.2 L162.2,236.9 L162.2,241.8 L162.7,241.3 L163.1,241.5 L163.6,231.7 L164.0,236.7 L164.5,236.5 L164.9,239.9 L165.4,232.8 L165.8,242.5 L166.3,241.5 L166.7,233.7 L167.2,235.0 L167.6,236.2 L168.1,238.5 L168.5,239.9 L169.0,244.0 L169.4,237.8 L169.9,241.1 L170.3,239.5 L170.8,244.9 L171.0,241.2 L171.2,242.7 L171.7,234.7 L172.1,237.5 L172.6,235.0 L173.0,242.1 L173.5,239.0 L173.9,235.9 L174.4,235.3 L174.8,237.3 L175.3,234.2 L175.7,234.1 L176.2,237.9 L176.6,241.4 L177.1,235.6 L177.5,234.6 L178.0,232.7 L178.4,231.8 L178.9,236.1 L179.3,236.1 L179.8,233.6 L180.2,234.4 L180.7,233.6 L180.7,233.4 L181.1,229.4 L181.6,231.8 L182.0,233.0 L182.5,231.0 L182.9,231.6 L183.4,230.6 L183.8,231.5 L184.3,235.1 L184.7,232.3 L185.2,232.9 L185.6,235.4 L186.1,235.6 L186.5,238.6 L187.0,230.4 L187.4,237.2 L187.9,233.8 L188.3,234.9 L188.8,236.5 L188.8,237.0 L189.2,237.4 L189.7,234.7 L190.1,238.3 L190.6,233.9 L191.0,234.8 L191.5,238.6 L191.9,235.2 L192.4,242.6 L192.8,240.9 L193.3,243.9 L193.7,239.0 L194.2,238.3 L194.6,240.8 L195.1,242.8 L195.5,238.1 L196.0,242.6 L196.2,242.2 L196.4,248.4 L196.9,240.3 L197.3,246.7 L197.8,240.8 L198.2,239.2 L198.7,240.7 L199.1,239.7 L199.6,244.8 L200.0,247.8 L200.5,244.1 L200.9,246.1 L201.4,251.3 L201.8,245.4 L202.3,245.7 L202.7,243.5 L203.2,237.0 L203.6,246.5 L203.6,236.4 L204.1,246.9 L204.5,245.5 L205.0,249.6 L205.4,244.8 L205.9,241.7 L206.3,247.5 L206.8,243.8 L207.2,245.3 L207.7,246.4 L208.1,245.9 L208.6,244.8 L209.0,242.2 L209.5,245.6 L209.9,237.8 L210.4,245.1 L210.8,240.7 L211.3,251.8 L211.7,251.7 L212.2,237.8 L212.5,246.8 L212.6,245.9 L213.1,241.8 L213.5,248.6 L214.0,244.7 L214.4,238.9 L214.9,245.0 L215.3,246.3 L215.8,247.6 L216.2,241.2 L216.7,248.4 L217.1,248.9 L217.6,240.6 L218.0,241.6 L218.5,243.9 L218.9,241.3 L219.4,250.3 L219.8,243.2 L220.3,239.0 L220.7,240.0 L221.2,242.8 L221.6,251.2 L222.1,243.4 L222.5,245.0 L222.9,246.5 L223.0,243.2 L223.4,251.1 L223.9,240.3 L224.3,245.2 L224.8,243.0 L225.2,244.3 L225.7,237.0 L226.1,247.2 L226.6,240.2 L227.0,241.1 L227.5,236.9 L227.9,238.0 L228.4,242.1 L228.8,242.9 L229.3,241.7 L229.5,243.4 L229.7,242.1 L230.2,239.6 L230.6,241.7 L231.1,240.8 L231.5,238.2 L232.0,240.0 L232.3,240.3 L232.4,237.2 L232.9,231.3 L233.3,224.1 L233.6,217.2 L233.8,208.2 L234.2,169.6 L234.3,160.0 L234.7,113.2 L234.8,104.0 L235.1,133.6 L235.3,160.1 L235.6,183.9 L236.0,216.5 L236.0,215.6 L236.5,225.5 L236.9,234.4 L237.3,232.9 L237.4,236.0 L237.8,243.5 L238.3,236.8 L238.7,245.7 L239.2,240.3 L239.6,244.8 L240.1,240.7 L240.5,233.8 L240.7,238.5 L241.0,241.1 L241.4,237.3 L241.9,236.3 L242.3,241.9 L242.8,238.4 L243.2,234.8 L243.7,239.0 L244.1,244.9 L244.6,240.2 L245.0,245.0 L245.5,247.3 L245.9,241.7 L246.4,238.6 L246.6,238.2 L246.8,242.6 L247.3,245.2 L247.7,242.1 L248.2,243.0 L248.6,239.1 L249.1,240.6 L249.5,237.7 L250.0,236.6 L250.4,233.2 L250.9,231.3 L251.3,233.6 L251.8,231.5 L252.2,230.4 L252.7,233.8 L253.1,231.5 L253.6,235.1 L254.0,232.8 L254.0,229.5 L254.5,232.6 L254.9,231.1 L255.4,228.7 L255.8,232.2 L256.3,228.0 L256.7,225.4 L257.2,230.5 L257.6,227.6 L258.1,231.0 L258.5,226.2 L259.0,225.2 L259.4,229.9 L259.9,225.1 L259.9,227.4 L260.3,229.8 L260.8,227.9 L261.2,227.9 L261.7,229.0 L262.1,231.8 L262.6,229.4 L263.0,233.4 L263.5,234.4 L263.9,238.3 L264.4,233.8 L264.8,232.9 L265.3,238.4 L265.7,235.9 L265.8,238.0 L266.2,238.5 L266.6,243.0 L267.1,238.3 L267.5,241.5 L268.0,236.7 L268.4,241.0 L268.9,250.5 L269.3,243.3 L269.8,243.7 L270.2,241.3 L270.3,247.4 L270.7,245.9 L271.1,240.5 L271.6,247.7 L272.0,246.0 L272.5,247.8 L272.9,242.8 L273.4,251.1 L273.8,245.9 L274.3,244.1 L274.7,242.5 L275.2,242.9 L275.6,246.9 L276.1,242.4 L276.5,246.8 L277.0,245.0 L277.4,247.6 L277.7,245.6 L277.9,242.0 L278.3,235.3 L278.8,243.7 L279.2,244.7 L279.7,242.3 L280.1,243.8 L280.6,239.2 L281.0,240.1 L281.5,238.1 L281.9,245.9 L282.4,241.4 L282.8,238.8 L283.3,236.0 L283.7,239.7 L284.2,245.2 L284.6,241.3 L285.1,236.3 L285.5,243.0 L286.0,242.3 L286.4,240.8 L286.9,239.9 L287.3,241.0 L287.8,239.1 L288.2,239.7 L288.7,235.7 L289.1,243.3 L289.5,239.5 L289.6,245.2 L290.0,233.9 L290.5,241.4 L290.9,241.6 L291.4,237.2 L291.8,239.1 L292.3,239.0 L292.7,238.1 L293.2,234.5 L293.6,235.3 L294.1,238.3 L294.5,238.9 L295.0,235.8 L295.4,235.3 L295.9,235.4 L296.3,238.2 L296.8,232.0 L297.2,231.5 L297.7,235.0 L298.1,231.6 L298.6,232.7 L299.0,234.4 L299.5,235.9 L299.9,231.7 L299.9,236.1 L300.4,230.1 L300.8,235.8 L301.3,230.5 L301.7,231.3 L302.2,236.0 L302.6,233.2 L303.1,232.0 L303.5,232.7 L304.0,235.5 L304.4,234.0 L304.9,233.6 L305.3,236.0 L305.8,231.3 L306.2,231.9 L306.7,231.7 L307.1,235.2 L307.6,234.5 L308.0,234.2 L308.5,231.1 L308.9,230.6 L309.4,232.7 L309.8,230.2 L310.2,232.5 L310.3,231.9 L310.7,229.1 L311.2,230.5 L311.6,230.5 L312.1,234.0 L312.5,234.2 L313.0,229.6 L313.4,229.8 L313.9,226.0 L314.3,229.8 L314.8,228.7 L315.2,225.9 L315.7,229.1 L316.1,224.6 L316.6,227.1 L317.0,227.9 L317.5,224.8 L317.9,228.3 L318.4,228.7 L318.8,224.5 L319.3,224.5 L319.7,227.6 L320.2,226.2 L320.6,223.9 L321.1,224.8 L321.5,224.9 L322.0,224.4 L322.1,225.6 L322.4,224.5 L322.9,226.4 L323.3,225.5 L323.8,224.2 L324.2,224.4 L324.7,224.6 L325.1,223.4 L325.6,220.2 L326.0,222.7 L326.5,221.2 L326.5,223.1 L326.9,219.7 L327.4,217.6 L327.8,213.8 L328.3,210.9 L328.7,205.3 L329.2,201.0 L329.6,197.3 L330.1,193.7 L330.4,192.1 L330.5,191.6 L331.0,189.8 L331.4,188.4 L331.9,185.9 L332.3,184.4 L332.8,182.7 L333.2,181.6 L333.7,180.0 L334.1,179.0 L334.6,178.4 L334.8,178.1 L335.0,177.8 L335.5,177.2 L335.9,176.6 L336.4,176.4 L336.8,176.2 L337.3,175.8 L337.7,175.7 L337.8,175.7 L338.2,175.5 L338.6,175.9 L339.1,176.5 L339.5,177.2 L340.0,178.0 L340.4,178.8 L340.9,180.3 L341.3,181.6 L341.5,181.7 L341.8,182.7 L342.2,184.7 L342.7,187.8 L343.1,190.4 L343.6,195.2 L344.0,198.2 L344.5,202.8 L344.9,205.4 L345.2,206.9 L345.4,208.1 L345.8,211.9 L346.3,213.3 L346.7,216.4 L347.2,218.6 L347.6,218.8 L348.1,223.6 L348.1,222.7 L348.5,221.2 L349.0,221.2 L349.4,216.5 L349.9,214.7 L350.3,213.7 L350.8,210.1 L351.1,205.7 L351.2,205.3 L351.7,203.2 L352.1,201.6 L352.6,197.8 L353.0,194.8 L353.5,191.7 L353.9,187.7 L354.4,184.3 L354.6,182.3 L354.8,180.6 L355.3,177.2 L355.7,173.5 L356.2,169.3 L356.6,163.3 L356.8,160.1 L357.1,154.0 L357.5,134.6 L357.9,110.0 L358.0,105.6 L358.4,41.0 L358.5,36.5 L358.9,76.4 L359.1,110.0 L359.3,123.1 L359.8,146.3 L360.2,159.9 L360.2,160.1 L360.7,167.4 L361.1,173.0 L361.6,177.3 L362.0,181.3 L362.4,184.9 L362.5,185.0 L362.9,189.8 L363.4,194.2 L363.8,198.6 L364.3,203.3 L364.7,206.3 L365.2,209.5 L365.6,212.4 L365.9,214.2 L366.1,215.9 L366.5,216.5 L367.0,220.7 L367.4,221.3 L367.9,221.8 L368.3,221.4 L368.8,224.6 L368.9,225.3 L369.2,222.1 L369.7,227.9 L370.1,229.5 L370.6,227.7 L371.0,228.5 L371.5,231.9 L371.9,230.7 L372.4,227.4 L372.8,229.4 L373.3,229.5 L373.7,229.5 L374.2,225.8 L374.6,231.8 L375.1,229.3 L375.5,231.2 L376.0,231.3 L376.3,233.6 L376.4,230.6 L376.9,229.8 L377.3,233.4 L377.8,235.6 L378.2,232.4 L378.7,236.8 L379.1,234.3 L379.6,232.3 L380.0,238.0 L380.5,232.8 L380.9,237.9 L381.4,234.5 L381.8,237.3 L382.3,232.4 L382.7,233.8 L383.2,239.5 L383.6,237.3 L383.7,237.1 L384.1,236.1 L384.5,238.2 L385.0,232.7 L385.4,233.8 L385.9,236.8 L386.3,234.7 L386.8,235.7 L387.2,237.7 L387.7,237.2 L388.1,237.0 L388.6,242.9 L389.0,240.9 L389.5,242.1 L389.9,237.9 L390.4,236.5 L390.8,233.5 L391.3,237.5 L391.7,232.9 L392.2,237.2 L392.5,242.0 L392.6,245.1 L393.1,242.7 L393.5,237.8 L394.0,242.4 L394.4,237.7 L394.9,242.4 L395.3,239.1 L395.8,241.3 L396.2,244.0 L396.7,241.0 L397.1,243.0 L397.6,236.9 L398.0,235.2 L398.5,239.8 L398.9,240.1 L399.4,233.9 L399.8,235.4 L400.3,231.7 L400.7,234.3 L401.2,236.8 L401.4,234.5 L401.6,233.1 L402.1,230.4 L402.5,234.9 L403.0,235.1 L403.4,234.5 L403.9,232.9 L404.3,228.8 L404.8,234.8 L405.2,230.3 L405.7,229.8 L406.1,231.7 L406.6,225.7 L407.0,229.0 L407.5,228.1 L407.9,228.8 L408.4,230.7 L408.8,228.6 L409.3,224.4 L409.7,227.0 L410.2,227.9 L410.6,227.5 L411.1,224.9 L411.5,224.3 L411.8,228.1 L412.0,227.5 L412.4,227.1 L412.9,224.0 L413.3,230.4 L413.8,223.7 L414.2,226.9 L414.7,231.1 L415.1,227.6 L415.6,229.0 L416.0,226.9 L416.5,232.7 L416.9,227.6 L417.4,231.3 L417.8,231.0 L418.3,229.0 L418.7,234.1 L419.2,229.3 L419.2,231.0 L419.6,232.6 L420.1,232.0 L420.5,235.1 L421.0,236.8 L421.4,234.7 L421.9,235.5 L422.3,236.4 L422.8,237.7 L423.2,242.1 L423.7,240.3 L424.1,242.6 L424.6,241.2 L425.0,239.3 L425.1,245.8 L425.5,238.2 L425.9,241.9 L426.4,248.0 L426.8,238.6 L427.3,242.3 L427.7,237.4 L428.2,242.0 L428.6,238.3 L429.1,243.1 L429.5,242.1 L430.0,245.3 L430.4,251.3 L430.9,245.5 L431.3,246.5 L431.8,243.1 L432.2,242.5 L432.7,239.4 L433.1,235.3 L433.6,244.7 L434.0,252.0 L434.5,247.1 L434.9,243.2 L435.4,253.9 L435.8,245.1 L436.3,244.7 L436.7,242.6 L437.2,244.4 L437.6,246.2 L438.1,255.6 L438.4,245.7 L438.5,242.3 L439.0,244.0 L439.4,246.3 L439.9,238.6 L440.3,246.7 L440.8,248.8 L441.2,247.4 L441.7,248.0 L442.1,240.3 L442.6,238.4 L443.0,251.4 L443.5,250.5 L443.9,240.0 L444.4,247.7 L444.8,246.2 L445.3,248.6 L445.7,248.2 L446.2,244.8 L446.6,248.1 L447.1,247.3 L447.5,245.9 L448.0,237.7 L448.4,237.6 L448.8,243.2 L448.9,239.6 L449.3,247.4 L449.8,249.2 L450.2,247.3 L450.7,244.9 L451.1,246.9 L451.6,251.3 L452.0,242.4 L452.5,249.3 L452.9,247.7 L453.4,244.7 L453.8,249.8 L454.3,240.3 L454.7,246.4 L455.2,239.4 L455.6,239.7 L456.1,238.7 L456.5,244.4 L457.0,238.8 L457.4,242.6 L457.9,238.5 L458.3,246.5 L458.8,249.5 L459.2,243.0 L459.2,248.1 L459.7,244.0 L460.1,247.2 L460.6,241.1 L461.0,234.8 L461.5,243.8 L461.9,238.2 L462.4,234.1 L462.8,235.2 L463.3,231.7 L463.7,235.3 L464.2,231.8 L464.6,238.8 L465.1,236.6 L465.5,230.0 L466.0,229.9 L466.4,231.9 L466.9,228.2 L467.3,232.5 L467.8,232.7 L468.2,231.4 L468.7,231.3 L469.1,233.2 L469.5,235.5 L469.6,235.4 L470.0,232.3 L470.5,234.3 L470.9,230.4 L471.4,233.2 L471.8,230.0 L472.3,234.5 L472.7,230.1 L473.2,230.7 L473.6,233.5 L474.1,235.3 L474.5,230.5 L475.0,233.1 L475.4,234.3 L475.5,234.6 L475.9,231.3 L476.3,231.9 L476.8,228.3 L477.2,227.5 L477.7,221.7 L478.1,215.1 L478.6,210.6 L479.0,208.7 L479.2,207.9 L479.5,205.4 L479.9,202.7 L480.4,198.7 L480.8,195.2 L481.3,192.9 L481.7,189.5 L482.2,186.4 L482.3,184.7 L482.6,183.1 L483.1,180.3 L483.5,178.0 L484.0,174.6 L484.4,170.4 L484.6,168.0 L484.9,164.0 L485.3,151.5 L485.8,132.5 L485.8,130.0 L486.2,79.4 L486.6,39.0 L486.7,40.1 L487.1,105.8 L487.3,130.0 L487.6,143.9 L488.0,160.8 L488.2,164.1 L488.5,165.9 L488.9,168.4 L489.4,170.0 L489.8,171.5 L490.3,172.2 L490.4,172.7 L490.7,172.8 L491.2,173.8 L491.6,173.9 L492.1,174.3 L492.5,175.1 L493.0,175.5 L493.2,176.1 L493.4,176.1 L493.9,177.3 L494.3,177.9 L494.8,178.5 L495.2,179.7 L495.7,180.8 L496.1,181.5 L496.6,182.9 L497.0,184.4 L497.5,185.4 L497.7,186.0 L497.9,186.5 L498.4,188.5 L498.8,189.8 L499.3,191.9 L499.7,194.8 L500.2,197.0 L500.6,200.9 L501.1,202.5 L501.5,204.0 L502.0,205.7 L502.1,207.4 L502.4,207.8 L502.9,209.6 L503.3,211.7 L503.8,213.4 L504.2,214.6 L504.7,215.7 L505.1,217.5 L505.1,217.9 L505.6,214.5 L506.0,218.6 L506.5,217.0 L506.9,218.3 L507.4,216.4 L507.8,217.8 L508.3,217.7 L508.7,217.8 L509.2,219.0 L509.6,218.7 L510.1,216.8 L510.5,218.1 L511.0,219.4 L511.0,219.3 L511.4,218.5 L511.9,218.9 L512.3,219.4 L512.8,218.6 L513.2,219.2 L513.7,223.4 L514.1,221.6 L514.6,222.9 L515.0,222.2 L515.5,225.6 L515.9,226.8 L516.4,224.1 L516.8,225.8 L517.3,224.1 L517.7,229.0 L518.2,227.6 L518.4,224.9 L518.6,228.4 L519.1,227.2 L519.5,227.5 L520.0,228.0 L520.4,226.1 L520.9,226.2 L521.3,228.6 L521.8,227.6 L522.2,226.2 L522.7,231.6 L523.1,228.1 L523.6,228.1 L524.0,227.8 L524.5,230.5 L524.9,231.6 L525.4,230.2 L525.8,231.5 L526.3,226.7 L526.7,229.1 L527.2,229.2 L527.3,229.9 L527.6,230.9 L528.1,226.1 L528.5,234.4 L529.0,229.1 L529.4,232.3 L529.9,234.3 L530.3,234.8 L530.8,233.6 L531.2,228.5 L531.7,231.3 L532.1,236.5 L532.6,232.5 L533.0,232.3 L533.5,229.8 L533.9,237.8 L534.4,236.7 L534.7,233.5 L534.8,235.9 L535.3,236.6 L535.7,233.8 L536.2,236.2 L536.6,238.4 L537.1,240.1 L537.5,243.0 L538.0,239.3 L538.4,238.0 L538.9,241.2 L539.3,238.0 L539.8,236.4 L540.2,244.5 L540.7,239.1 L541.1,240.3 L541.6,242.0 L542.0,236.5 L542.5,241.6 L542.9,241.0 L543.4,239.5 L543.8,240.6 L544.3,237.1 L544.7,233.7 L545.2,240.3 L545.6,237.8 L546.1,244.2 L546.5,242.2 L546.5,240.0 L547.0,241.3 L547.4,246.6 L547.9,245.4 L548.3,242.6 L548.8,242.0 L549.2,240.0 L549.7,240.6 L550.1,243.5 L550.6,241.0 L551.0,242.7 L551.5,237.9 L551.9,236.3 L552.4,236.6 L552.8,241.1 L553.3,246.9 L553.7,246.0 L554.2,238.7 L554.6,236.3 L555.1,244.2 L555.5,242.8 L556.0,236.3 L556.4,243.5 L556.9,240.8 L556.9,243.9 L557.3,241.0 L557.8,242.2 L558.2,239.8 L558.7,235.3 L559.0,237.0 L559.1,235.3 L559.6,238.9 L560.0,232.9 L560.5,231.0 L560.9,234.7 L561.4,233.6 L561.8,232.0 L562.3,229.2 L562.7,223.0 L563.2,222.6 L563.6,221.1 L564.1,219.9 L564.2,217.1 L564.5,218.4 L565.0,217.6 L565.4,215.2 L565.9,215.4 L566.3,215.3 L566.8,213.2 L567.2,213.3 L567.7,212.7 L568.0,211.8 L568.1,211.8 L568.6,210.5 L569.0,211.1 L569.5,209.1 L569.9,208.5 L570.4,209.4 L570.8,208.0 L571.1,208.9 L571.3,209.2 L571.7,208.4 L572.2,208.8 L572.6,209.8 L573.1,209.9 L573.5,208.5 L574.0,208.9 L574.4,211.5 L574.5,210.8 L574.9,209.3 L575.3,210.4 L575.8,212.1 L576.2,211.9 L576.7,214.1 L577.1,214.5 L577.1,214.8 L577.6,214.2 L578.0,217.5 L578.5,220.3 L578.9,218.9 L579.4,223.3 L579.8,224.8 L580.3,226.1 L580.7,226.7 L581.2,226.7 L581.6,229.1 L582.1,234.2 L582.5,236.3 L583.0,237.8 L583.2,238.7 L583.4,239.1 L583.9,236.8 L584.3,236.4 L584.8,242.1 L585.2,243.3 L585.7,243.1 L586.1,237.8 L586.6,243.5 L587.0,239.1 L587.5,246.1 L587.9,241.1 L588.4,244.0 L588.4,246.0 L588.8,246.0 L589.3,251.2 L589.7,240.6 L590.2,236.0 L590.6,248.4 L591.1,249.9 L591.5,250.2 L592.0,245.4 L592.4,246.7 L592.9,244.8 L593.3,239.8 L593.8,243.0 L594.2,247.4 L594.7,243.6 L595.1,253.9 L595.6,239.5 L596.0,244.6 L596.5,250.8 L596.9,243.5 L597.4,240.9 L597.8,240.3 L598.3,243.1 L598.7,251.5 L598.7,247.0 L599.2,246.7 L599.6,241.7 L600.1,246.8 L600.5,243.9 L601.0,239.5 L601.4,240.8 L601.9,243.3 L602.3,246.8 L602.8,241.4 L603.2,243.7 L603.7,249.0 L604.1,239.3 L604.6,237.5 L605.0,244.8 L605.5,241.8 L605.9,240.0 L606.4,241.6 L606.8,239.9 L607.3,242.7 L607.7,239.6 L608.2,243.4 L608.6,236.8 L609.1,237.9 L609.1,241.7 L609.5,239.4 L610.0,241.9 L610.4,238.9 L610.9,236.5 L611.3,237.8 L611.8,234.5 L612.2,230.9 L612.7,230.8 L613.1,230.5 L613.6,230.6 L614.0,230.9 L614.3,232.0 L614.5,230.8 L614.9,231.5 L615.4,228.8 L615.8,224.2 L616.3,224.6 L616.7,221.4 L617.2,216.5 L617.4,215.7 L617.6,215.0 L618.1,210.7 L618.5,207.0 L619.0,201.0 L619.3,195.5 L619.4,193.2 L619.9,180.6 L620.3,160.0 L620.3,160.0 L620.8,116.1 L620.8,110.0 L621.2,47.5 L621.2,47.5 L621.6,110.0 L621.7,116.1 L622.1,159.9 L622.1,159.9 L622.6,180.4 L623.0,193.1 L623.1,195.4 L623.5,200.0 L623.9,206.7 L624.4,208.9 L624.8,213.0 L625.0,215.0 L625.3,217.8 L625.7,218.3 L626.2,218.7 L626.6,224.6 L627.1,225.7 L627.5,225.5 L628.0,227.4 L628.4,229.4 L628.5,231.5 L628.9,233.8 L629.3,230.0 L629.8,239.6 L630.2,236.1 L630.7,236.4 L631.1,240.5 L631.6,239.6 L632.0,244.9 L632.5,243.0 L632.9,239.2 L633.4,240.2 L633.8,240.2 L634.3,240.7 L634.7,244.4 L635.0,239.8 L635.2,248.0 L635.6,242.0 L636.1,242.4 L636.5,245.8 L637.0,235.3 L637.4,238.9 L637.9,244.7 L638.3,243.2 L638.8,243.2 L639.2,244.3 L639.7,240.9 L640.1,242.6 L640.6,238.7 L641.0,236.1 L641.5,246.7 L641.9,238.8 L642.4,239.9 L642.8,247.7 L643.3,246.7 L643.6,241.4 L643.7,240.1 L644.2,241.2 L644.6,238.8 L645.1,245.0 L645.5,242.4 L646.0,241.8 L646.4,243.6 L646.9,243.5 L647.3,246.9 L647.8,246.2 L648.2,235.2 L648.7,243.2 L649.1,236.4 L649.6,235.5 L650.0,241.8 L650.5,236.9 L650.9,237.9 L651.4,242.3 L651.8,236.3 L652.3,236.0 L652.3,239.9 L652.7,242.2 L653.2,240.3 L653.6,233.9 L654.1,236.5 L654.5,237.7 L655.0,244.1 L655.4,241.9 L655.9,242.2 L656.3,243.4 L656.8,239.3 L657.2,241.9 L657.7,242.3 L658.1,238.7 L658.6,242.3 L659.0,243.9 L659.5,238.5 L659.9,243.9 L660.4,243.7 L660.8,244.6 L660.9,238.1 L661.3,241.0 L661.7,245.2 L662.2,243.1 L662.6,237.9 L663.1,242.9 L663.5,248.4 L664.0,243.1 L664.4,245.2 L664.9,252.8 L665.3,246.1 L665.8,246.4 L666.2,243.1 L666.7,245.4 L667.1,254.9 L667.6,247.0 L668.0,243.2 L668.5,243.9 L668.9,248.4 L669.4,253.0 L669.6,244.7 L669.8,251.9 L670.3,246.7 L670.7,252.2 L671.2,253.7 L671.6,253.8 L672.1,249.5 L672.5,251.2 L673.0,254.4 L673.4,244.4 L673.9,253.8 L674.3,254.6 L674.8,256.3 L675.2,249.6 L675.7,249.1 L676.1,250.7 L676.6,244.5 L677.0,248.6 L677.5,253.0 L677.9,251.8 L678.4,243.9 L678.8,249.5 L679.3,241.5 L679.7,257.6 L680.2,250.3 L680.6,256.1 L681.1,247.3 L681.5,252.7 L681.6,255.2 L682.0,258.9 L682.4,244.1 L682.9,257.5 L683.3,251.3 L683.8,248.0 L684.2,256.4 L684.7,252.2 L685.1,252.7 L685.6,252.1 L686.0,258.0 L686.5,257.0 L686.9,255.8 L687.4,250.2 L687.8,251.7 L688.3,258.7 L688.7,262.7 L689.2,254.2 L689.6,263.0 L690.1,254.7 L690.5,247.3 L691.0,258.1 L691.4,248.0 L691.9,257.5 L692.3,261.4 L692.8,253.5 L693.2,255.2 L693.7,268.5 L694.1,256.6 L694.6,257.2 L695.0,260.3 L695.5,254.6 L695.5,255.3 L695.9,257.1 L696.4,242.5 L696.8,265.7 L697.3,249.9 L697.7,251.1 L698.2,261.1 L698.6,258.1 L699.1,249.7 L699.5,258.5 L700.0,249.3 L700.4,250.9 L700.9,244.8 L701.3,248.8 L701.8,256.3 L702.2,255.7 L702.7,257.3 L703.1,261.4 L703.6,255.4 L704.0,252.8 L704.5,256.7 L704.9,268.8 L705.4,257.4 L705.8,258.3 L706.3,255.9 L706.7,258.0 L707.2,259.5 L707.6,256.2 L708.1,255.1 L708.5,249.2 L709.0,248.9 L709.4,257.2 L709.9,259.3 L710.3,259.7 L710.8,253.9 L711.2,250.0 L711.7,260.2 L712.1,260.2 L712.6,246.8 L712.7,261.2 L713.0,260.7 L713.5,269.4 L713.9,250.2 L714.4,248.9 L714.8,261.4 L715.3,244.4 L715.7,249.6 L716.2,248.3 L716.6,249.7 L717.1,243.7 L717.5,252.8 L718.0,261.9 L718.4,259.0 L718.9,257.9 L719.3,252.9 L719.8,265.7 L720.2,258.8 L720.7,261.7 L721.1,244.1 L721.6,256.5 L722.0,247.0 L722.5,255.9 L722.9,254.6 L723.4,246.6 L723.8,255.6 L724.3,262.7 L724.7,258.9 L725.2,260.1 L725.6,251.1 L726.1,251.0 L726.5,248.4 L727.0,256.9 L727.4,262.8 L727.9,258.2 L728.3,253.9 L728.8,247.0 L729.2,255.9 L729.7,251.5 L730.0,241.9 L730.1,243.0 L730.6,251.0 L731.0,247.8 L731.5,262.4 L731.9,253.8 L732.4,247.7 L732.8,250.8 L733.3,261.7 L733.7,246.9 L734.2,256.1 L734.6,254.1 L735.1,257.9 L735.5,251.8 L736.0,245.8 L736.4,248.8 L736.9,246.5 L737.3,250.4 L737.8,245.6 L738.2,253.1 L738.7,244.5 L738.7,247.2 L739.1,243.0 L739.6,245.7 L740.0,245.2 L740.5,245.2 L740.9,247.3 L741.4,241.6 L741.8,239.7 L742.3,245.1 L742.7,240.4 L743.2,238.5 L743.6,243.5 L744.0,241.7 L744.1,233.3 L744.5,237.1 L745.0,239.9 L745.4,239.7 L745.9,235.4 L746.3,239.7 L746.8,232.8 L747.2,234.3 L747.7,234.7 L748.1,234.2 L748.6,235.7 L749.0,235.7 L749.5,232.9 L749.6,236.3 L749.9,231.9 L750.4,233.3 L750.8,237.7 L751.3,234.2 L751.7,237.0 L752.2,233.7 L752.6,234.5 L753.1,235.2 L753.5,235.9 L754.0,234.3 L754.0,235.2 L754.4,237.0 L754.9,239.0 L755.3,236.6 L755.8,238.7 L756.2,240.2 L756.7,234.9 L757.1,234.1 L757.6,245.1 L758.0,244.8 L758.5,241.2 L758.5,242.2 L758.9,237.2 L759.4,235.2 L759.8,238.5 L760.3,231.7 L760.7,236.3 L761.0,231.8 L761.2,233.0 L761.6,233.8 L762.1,230.9 L762.5,224.3 L763.0,223.6 L763.0,220.5 L763.4,219.0 L763.9,217.8 L764.3,215.7 L764.6,211.3 L764.8,210.8 L765.2,204.2 L765.7,193.9 L765.8,190.0 L766.1,170.3 L766.5,130.0 L766.6,124.9 L767.0,72.2 L767.1,69.0 L767.5,99.1 L767.7,130.0 L767.9,150.0 L768.4,188.3 L768.4,189.9 L768.8,201.5 L769.3,209.3 L769.4,211.2 L769.7,214.4 L770.2,219.8 L770.6,223.9 L770.6,220.9 L771.1,226.7 L771.5,226.6 L772.0,232.2 L772.4,233.9 L772.5,232.4 L772.9,238.9 L773.3,241.4 L773.8,241.7 L774.2,242.3 L774.7,242.7 L775.1,248.1 L775.6,246.6 L776.0,250.7 L776.2,244.2 L776.5,251.7 L776.9,254.2 L777.4,257.7 L777.8,257.7 L778.3,253.2 L778.7,249.1 L779.2,243.4 L779.6,252.9 L780.1,259.5 L780.5,260.3 L781.0,240.0 L781.0,246.5 L781.4,248.6 L781.9,245.0 L782.3,252.2 L782.8,251.2 L783.2,248.6 L783.7,252.4 L784.1,243.5 L784.6,247.6 L785.0,248.9 L785.5,260.2 L785.9,246.1 L786.4,254.5 L786.8,261.4 L787.3,256.6 L787.7,261.3 L788.2,252.3 L788.6,258.0 L789.1,259.9 L789.5,265.8 L790.0,257.0 L790.0,260.2 L790.4,251.1 L790.9,251.8 L791.3,261.5 L791.8,255.6 L792.2,262.2 L792.7,258.9 L793.1,266.0 L793.6,266.0 L794.0,248.8 L794.5,265.9 L794.9,255.5 L795.4,255.1 L795.8,250.1 L796.3,254.3 L796.7,242.8 L797.2,247.0 L797.6,247.2 L798.1,254.3 L798.5,258.2 L799.0,257.3 L799.4,255.8 L799.9,250.5 L800.0,242.7 L800.3,256.6 L800.8,253.7 L801.2,256.4 L801.7,263.5 L802.1,254.1 L802.6,254.8 L803.0,243.3 L803.5,277.0 L803.9,255.9 L804.4,250.5 L804.8,258.3 L805.3,247.8 L805.7,251.6 L806.0,267.0 L806.2,258.7 L806.6,259.7 L807.1,258.3 L807.5,257.7 L808.0,255.7 L808.4,267.2 L808.9,254.3 L809.3,259.3 L809.8,253.4 L809.8,253.3" stroke="#e8251f"/>
</g>
<rect x="106.5" y="29.2" width="708.4" height="472.3" fill="none" stroke="#000" stroke-width="2"/>
<line x1="112.8" y1="501.5" x2="112.8" y2="488.9" stroke="#000" stroke-width="2"/>
<text x="112.8" y="539.65" font-size="33.8" text-anchor="middle">0</text>
<line x1="287.0" y1="501.5" x2="287.0" y2="488.9" stroke="#000" stroke-width="2"/>
<text x="287.0" y="539.65" font-size="33.8" text-anchor="middle">20</text>
<line x1="461.2" y1="501.5" x2="461.2" y2="488.9" stroke="#000" stroke-width="2"/>
<text x="461.2" y="539.65" font-size="33.8" text-anchor="middle">40</text>
<line x1="635.4" y1="501.5" x2="635.4" y2="488.9" stroke="#000" stroke-width="2"/>
<text x="635.4" y="539.65" font-size="33.8" text-anchor="middle">60</text>
<line x1="809.6" y1="501.5" x2="809.6" y2="488.9" stroke="#000" stroke-width="2"/>
<text x="809.6" y="539.65" font-size="33.8" text-anchor="middle">80</text>
<text x="459.9" y="593.4" font-size="42.0" text-anchor="middle">Two Theta (deg.)</text>
<text transform="translate(54.1,265) rotate(-90)" font-size="42.0" text-anchor="middle">Intensity (a.u.)</text>
<text transform="translate(1.5,42.7) scale(0.91,1)" font-size="50" font-weight="bold">a</text>
<text transform="translate(192.1,165.6) rotate(-90) scale(0.905,1)" font-size="25.3" text-anchor="end">(002)</text>
<text transform="translate(226.4,51.6) rotate(-90) scale(0.879,1)" font-size="25.3" text-anchor="end">SLAO (002)</text>
<text transform="translate(267.5,165.9) rotate(-90) scale(0.905,1)" font-size="25.3" text-anchor="end">(004)</text>
<text transform="translate(331.3,116.6) rotate(-90) scale(0.905,1)" font-size="25.3" text-anchor="end">(006)</text>
<text transform="translate(387.3,47.6) rotate(-90) scale(0.879,1)" font-size="25.3" text-anchor="end">SLAO (004)</text>
<text transform="translate(419.4,166.0) rotate(-90) scale(0.905,1)" font-size="25.3" text-anchor="end">(008)</text>
<text transform="translate(472.1,47.9) rotate(-90) scale(0.879,1)" font-size="25.3" text-anchor="end">SLAO (006)</text>
<text transform="translate(518.2,105.6) rotate(-90) scale(0.888,1)" font-size="25.3" text-anchor="end">(00<tspan text-decoration="underline">10</tspan>)</text>
<text transform="translate(580.3,132.8) rotate(-90) scale(0.888,1)" font-size="25.3" text-anchor="end">(00<tspan text-decoration="underline">12</tspan>)</text>
<text transform="translate(612.1,47.6) rotate(-90) scale(0.879,1)" font-size="25.3" text-anchor="end">SLAO (008)</text>
<text transform="translate(666.0,153.3) rotate(-90) scale(0.888,1)" font-size="25.3" text-anchor="end">(00<tspan text-decoration="underline">14</tspan>)</text>
<text transform="translate(749.0,153.3) rotate(-90) scale(0.888,1)" font-size="25.3" text-anchor="end">(00<tspan text-decoration="underline">16</tspan>)</text>
<text transform="translate(793.8,34.8) rotate(-90) scale(0.872,1)" font-size="25.3" text-anchor="end">SLAO (00<tspan text-decoration="underline">10</tspan>)</text>
<text x="700.8" y="289.65" font-size="25.1" text-anchor="middle" fill="#d32823">La+2%</text>
<text x="700.5" y="396.85" font-size="25.1" text-anchor="middle" fill="#58ae42">La+0%</text>
<text x="697.6" y="490.85" font-size="25.1" text-anchor="middle" fill="#478bb8">La-2%</text>
<polyline points="1050.0,402.6 1261.1,476.6 1472.2,53.6" fill="none" stroke="#e8251f" stroke-width="4.4" stroke-linejoin="round"/>
<circle cx="1050.0" cy="402.6" r="5.5" fill="#e8251f"/>
<circle cx="1261.1" cy="476.6" r="5.5" fill="#e8251f"/>
<circle cx="1472.2" cy="53.6" r="5.5" fill="#e8251f"/>
<polyline points="1050.0,258.0 1261.1,447.0 1472.2,82.5" fill="none" stroke="#000" stroke-width="4.4" stroke-linejoin="round"/>
<polygon points="1050.0,251.4 1044.0,261.6 1056.0,261.6" fill="#000"/>
<polygon points="1261.1,440.4 1255.1,450.6 1267.1,450.6" fill="#000"/>
<polygon points="1472.2,75.9 1466.2,86.1 1478.2,86.1" fill="#000"/>
<rect x="1025.1" y="29.2" width="472.1" height="471.7" fill="none" stroke="#000" stroke-width="2"/>
<line x1="1025.1" y1="57.1" x2="1038.9" y2="57.1" stroke="#000" stroke-width="2"/>
<text x="1019.5" y="65.65" font-size="33.8" text-anchor="end">21.00</text>
<line x1="1025.1" y1="153.5" x2="1038.9" y2="153.5" stroke="#000" stroke-width="2"/>
<line x1="1025.1" y1="249.9" x2="1038.9" y2="249.9" stroke="#000" stroke-width="2"/>
<text x="1019.5" y="258.45" font-size="33.8" text-anchor="end">20.96</text>
<line x1="1025.1" y1="346.3" x2="1038.9" y2="346.3" stroke="#000" stroke-width="2"/>
<line x1="1025.1" y1="442.7" x2="1038.9" y2="442.7" stroke="#000" stroke-width="2"/>
<text x="1019.5" y="451.75" font-size="33.8" text-anchor="end">20.92</text>
<line x1="1497.2" y1="116.7" x2="1483.2" y2="116.7" stroke="#000" stroke-width="2"/>
<text x="1504.8" y="128.95" font-size="33.8">0.35</text>
<line x1="1497.2" y1="279.9" x2="1483.2" y2="279.9" stroke="#000" stroke-width="2"/>
<text x="1504.8" y="294.05" font-size="33.8">0.30</text>
<line x1="1497.2" y1="443.1" x2="1483.2" y2="443.1" stroke="#000" stroke-width="2"/>
<text x="1504.8" y="454.65" font-size="33.8">0.25</text>
<line x1="1120.4" y1="500.9" x2="1120.4" y2="487.7" stroke="#000" stroke-width="2"/>
<text x="1120.8" y="539.65" font-size="33.8" text-anchor="middle">1.48</text>
<line x1="1261.1" y1="500.9" x2="1261.1" y2="487.7" stroke="#000" stroke-width="2"/>
<text x="1261.5" y="539.65" font-size="33.8" text-anchor="middle">1.50</text>
<line x1="1401.8" y1="500.9" x2="1401.8" y2="487.7" stroke="#000" stroke-width="2"/>
<text x="1402.2" y="539.65" font-size="33.8" text-anchor="middle">1.52</text>
<text x="1261.6" y="593.5" font-size="42.0" text-anchor="middle">Flux Ratio</text>
<text transform="translate(912.8,265.3) rotate(-90)" font-size="42.0" text-anchor="middle"><tspan font-style="italic">c</tspan>-axis lattice (Å)</text>
<text transform="translate(1586.9,53.8) rotate(90)" font-size="42.0">Standard Deviation (Å)</text>
<text x="857.6" y="42.7" font-size="50" font-weight="bold">b</text>
<line x1="1090.8" y1="71.05" x2="1129.7" y2="71.05" stroke="#e8251f" stroke-width="4.5"/>
<circle cx="1110.3" cy="71.05" r="6.85" fill="#e8251f"/>
<text transform="translate(1142.4,79.1) scale(1.015,1)" font-size="28.8"><tspan font-style="italic">c</tspan>-axis lattice</text>
<line x1="1090.8" y1="112.3" x2="1129.7" y2="112.3" stroke="#000" stroke-width="4.6"/>
<polygon points="1110.4,105.9 1102.6,119.1 1118.2,119.1" fill="#000"/>
<text x="1141.8" y="119.5" font-size="29.2">SD</text>
</svg>
</body>
</html>
